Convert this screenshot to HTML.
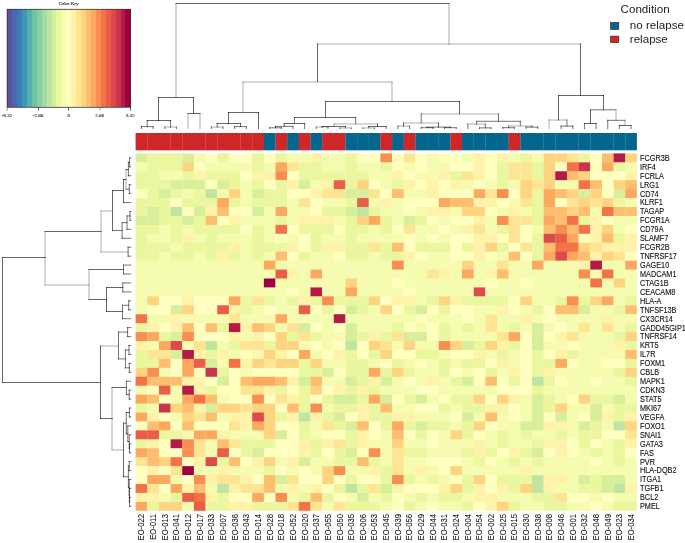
<!DOCTYPE html><html><head><meta charset="utf-8"><style>html,body{margin:0;padding:0;background:#fff;}svg{display:block;will-change:transform;}text{font-family:"Liberation Sans", sans-serif;}text.ser{font-family:"Liberation Serif",serif;}</style></head><body>
<svg width="685" height="543" viewBox="0 0 685 543">
<rect width="685" height="543" fill="#fff"/>
<g>
<rect x="135.6" y="153.4" width="11.81" height="9.38" fill="#d7ef9b"/>
<rect x="147.26" y="153.4" width="11.81" height="9.38" fill="#eaf79e"/>
<rect x="158.92" y="153.4" width="11.81" height="9.38" fill="#eaf79e"/>
<rect x="170.57" y="153.4" width="11.81" height="9.38" fill="#eaf79e"/>
<rect x="182.23" y="153.4" width="11.81" height="9.38" fill="#d7ef9b"/>
<rect x="193.89" y="153.4" width="11.81" height="9.38" fill="#f5fbaf"/>
<rect x="205.55" y="153.4" width="11.81" height="9.38" fill="#ffffbf"/>
<rect x="217.21" y="153.4" width="11.81" height="9.38" fill="#eaf79e"/>
<rect x="228.87" y="153.4" width="11.81" height="9.38" fill="#ffffbf"/>
<rect x="240.52" y="153.4" width="11.81" height="9.38" fill="#ffffbf"/>
<rect x="252.18" y="153.4" width="11.81" height="9.38" fill="#eaf79e"/>
<rect x="263.84" y="153.4" width="11.81" height="9.38" fill="#ffffbf"/>
<rect x="275.5" y="153.4" width="11.81" height="9.38" fill="#eaf79e"/>
<rect x="287.16" y="153.4" width="11.81" height="9.38" fill="#f5fbaf"/>
<rect x="298.81" y="153.4" width="11.81" height="9.38" fill="#f5fbaf"/>
<rect x="310.47" y="153.4" width="11.81" height="9.38" fill="#fff2a9"/>
<rect x="322.13" y="153.4" width="11.81" height="9.38" fill="#f5fbaf"/>
<rect x="333.79" y="153.4" width="11.81" height="9.38" fill="#f5fbaf"/>
<rect x="345.45" y="153.4" width="11.81" height="9.38" fill="#eaf79e"/>
<rect x="357.1" y="153.4" width="11.81" height="9.38" fill="#ffffbf"/>
<rect x="368.76" y="153.4" width="11.81" height="9.38" fill="#ffffbf"/>
<rect x="380.42" y="153.4" width="11.81" height="9.38" fill="#f88e52"/>
<rect x="392.08" y="153.4" width="11.81" height="9.38" fill="#ffffbf"/>
<rect x="403.74" y="153.4" width="11.81" height="9.38" fill="#fee594"/>
<rect x="415.4" y="153.4" width="11.81" height="9.38" fill="#ffffbf"/>
<rect x="427.05" y="153.4" width="11.81" height="9.38" fill="#f5fbaf"/>
<rect x="438.71" y="153.4" width="11.81" height="9.38" fill="#ffffbf"/>
<rect x="450.37" y="153.4" width="11.81" height="9.38" fill="#ffffbf"/>
<rect x="462.03" y="153.4" width="11.81" height="9.38" fill="#f5fbaf"/>
<rect x="473.69" y="153.4" width="11.81" height="9.38" fill="#fff2a9"/>
<rect x="485.34" y="153.4" width="11.81" height="9.38" fill="#ffffbf"/>
<rect x="497" y="153.4" width="11.81" height="9.38" fill="#fff2a9"/>
<rect x="508.66" y="153.4" width="11.81" height="9.38" fill="#f5fbaf"/>
<rect x="520.32" y="153.4" width="11.81" height="9.38" fill="#eaf79e"/>
<rect x="531.98" y="153.4" width="11.81" height="9.38" fill="#f5fbaf"/>
<rect x="543.63" y="153.4" width="11.81" height="9.38" fill="#fed480"/>
<rect x="555.29" y="153.4" width="11.81" height="9.38" fill="#fed480"/>
<rect x="566.95" y="153.4" width="11.81" height="9.38" fill="#fee594"/>
<rect x="578.61" y="153.4" width="11.81" height="9.38" fill="#eaf79e"/>
<rect x="590.27" y="153.4" width="11.81" height="9.38" fill="#ffffbf"/>
<rect x="601.93" y="153.4" width="11.81" height="9.38" fill="#fdbf6f"/>
<rect x="613.58" y="153.4" width="11.81" height="9.38" fill="#b51a47"/>
<rect x="625.24" y="153.4" width="11.66" height="9.38" fill="#fed480"/>
<rect x="135.6" y="162.34" width="11.81" height="9.38" fill="#f5fbaf"/>
<rect x="147.26" y="162.34" width="11.81" height="9.38" fill="#eaf79e"/>
<rect x="158.92" y="162.34" width="11.81" height="9.38" fill="#eaf79e"/>
<rect x="170.57" y="162.34" width="11.81" height="9.38" fill="#eaf79e"/>
<rect x="182.23" y="162.34" width="11.81" height="9.38" fill="#fed480"/>
<rect x="193.89" y="162.34" width="11.81" height="9.38" fill="#ffffbf"/>
<rect x="205.55" y="162.34" width="11.81" height="9.38" fill="#f5fbaf"/>
<rect x="217.21" y="162.34" width="11.81" height="9.38" fill="#f5fbaf"/>
<rect x="228.87" y="162.34" width="11.81" height="9.38" fill="#f5fbaf"/>
<rect x="240.52" y="162.34" width="11.81" height="9.38" fill="#f5fbaf"/>
<rect x="252.18" y="162.34" width="11.81" height="9.38" fill="#eaf79e"/>
<rect x="263.84" y="162.34" width="11.81" height="9.38" fill="#f5fbaf"/>
<rect x="275.5" y="162.34" width="11.81" height="9.38" fill="#fca95f"/>
<rect x="287.16" y="162.34" width="11.81" height="9.38" fill="#fee594"/>
<rect x="298.81" y="162.34" width="11.81" height="9.38" fill="#eaf79e"/>
<rect x="310.47" y="162.34" width="11.81" height="9.38" fill="#eaf79e"/>
<rect x="322.13" y="162.34" width="11.81" height="9.38" fill="#f5fbaf"/>
<rect x="333.79" y="162.34" width="11.81" height="9.38" fill="#f5fbaf"/>
<rect x="345.45" y="162.34" width="11.81" height="9.38" fill="#eaf79e"/>
<rect x="357.1" y="162.34" width="11.81" height="9.38" fill="#f5fbaf"/>
<rect x="368.76" y="162.34" width="11.81" height="9.38" fill="#f5fbaf"/>
<rect x="380.42" y="162.34" width="11.81" height="9.38" fill="#eaf79e"/>
<rect x="392.08" y="162.34" width="11.81" height="9.38" fill="#ffffbf"/>
<rect x="403.74" y="162.34" width="11.81" height="9.38" fill="#f5fbaf"/>
<rect x="415.4" y="162.34" width="11.81" height="9.38" fill="#ffffbf"/>
<rect x="427.05" y="162.34" width="11.81" height="9.38" fill="#f5fbaf"/>
<rect x="438.71" y="162.34" width="11.81" height="9.38" fill="#f5fbaf"/>
<rect x="450.37" y="162.34" width="11.81" height="9.38" fill="#ffffbf"/>
<rect x="462.03" y="162.34" width="11.81" height="9.38" fill="#ffffbf"/>
<rect x="473.69" y="162.34" width="11.81" height="9.38" fill="#fff2a9"/>
<rect x="485.34" y="162.34" width="11.81" height="9.38" fill="#ffffbf"/>
<rect x="497" y="162.34" width="11.81" height="9.38" fill="#eaf79e"/>
<rect x="508.66" y="162.34" width="11.81" height="9.38" fill="#fee594"/>
<rect x="520.32" y="162.34" width="11.81" height="9.38" fill="#fee594"/>
<rect x="531.98" y="162.34" width="11.81" height="9.38" fill="#eaf79e"/>
<rect x="543.63" y="162.34" width="11.81" height="9.38" fill="#fed480"/>
<rect x="555.29" y="162.34" width="11.81" height="9.38" fill="#ffffbf"/>
<rect x="566.95" y="162.34" width="11.81" height="9.38" fill="#f57246"/>
<rect x="578.61" y="162.34" width="11.81" height="9.38" fill="#cc344d"/>
<rect x="590.27" y="162.34" width="11.81" height="9.38" fill="#ffffbf"/>
<rect x="601.93" y="162.34" width="11.81" height="9.38" fill="#fca95f"/>
<rect x="613.58" y="162.34" width="11.81" height="9.38" fill="#eaf79e"/>
<rect x="625.24" y="162.34" width="11.66" height="9.38" fill="#f5fbaf"/>
<rect x="135.6" y="171.27" width="11.81" height="9.38" fill="#eaf79e"/>
<rect x="147.26" y="171.27" width="11.81" height="9.38" fill="#eaf79e"/>
<rect x="158.92" y="171.27" width="11.81" height="9.38" fill="#f5fbaf"/>
<rect x="170.57" y="171.27" width="11.81" height="9.38" fill="#f5fbaf"/>
<rect x="182.23" y="171.27" width="11.81" height="9.38" fill="#eaf79e"/>
<rect x="193.89" y="171.27" width="11.81" height="9.38" fill="#fff2a9"/>
<rect x="205.55" y="171.27" width="11.81" height="9.38" fill="#eaf79e"/>
<rect x="217.21" y="171.27" width="11.81" height="9.38" fill="#eaf79e"/>
<rect x="228.87" y="171.27" width="11.81" height="9.38" fill="#eaf79e"/>
<rect x="240.52" y="171.27" width="11.81" height="9.38" fill="#ffffbf"/>
<rect x="252.18" y="171.27" width="11.81" height="9.38" fill="#fff2a9"/>
<rect x="263.84" y="171.27" width="11.81" height="9.38" fill="#fff2a9"/>
<rect x="275.5" y="171.27" width="11.81" height="9.38" fill="#f88e52"/>
<rect x="287.16" y="171.27" width="11.81" height="9.38" fill="#ffffbf"/>
<rect x="298.81" y="171.27" width="11.81" height="9.38" fill="#eaf79e"/>
<rect x="310.47" y="171.27" width="11.81" height="9.38" fill="#eaf79e"/>
<rect x="322.13" y="171.27" width="11.81" height="9.38" fill="#eaf79e"/>
<rect x="333.79" y="171.27" width="11.81" height="9.38" fill="#eaf79e"/>
<rect x="345.45" y="171.27" width="11.81" height="9.38" fill="#eaf79e"/>
<rect x="357.1" y="171.27" width="11.81" height="9.38" fill="#eaf79e"/>
<rect x="368.76" y="171.27" width="11.81" height="9.38" fill="#f5fbaf"/>
<rect x="380.42" y="171.27" width="11.81" height="9.38" fill="#f5fbaf"/>
<rect x="392.08" y="171.27" width="11.81" height="9.38" fill="#fff2a9"/>
<rect x="403.74" y="171.27" width="11.81" height="9.38" fill="#ffffbf"/>
<rect x="415.4" y="171.27" width="11.81" height="9.38" fill="#f5fbaf"/>
<rect x="427.05" y="171.27" width="11.81" height="9.38" fill="#f5fbaf"/>
<rect x="438.71" y="171.27" width="11.81" height="9.38" fill="#fff2a9"/>
<rect x="450.37" y="171.27" width="11.81" height="9.38" fill="#eaf79e"/>
<rect x="462.03" y="171.27" width="11.81" height="9.38" fill="#fee594"/>
<rect x="473.69" y="171.27" width="11.81" height="9.38" fill="#fff2a9"/>
<rect x="485.34" y="171.27" width="11.81" height="9.38" fill="#ffffbf"/>
<rect x="497" y="171.27" width="11.81" height="9.38" fill="#eaf79e"/>
<rect x="508.66" y="171.27" width="11.81" height="9.38" fill="#fee594"/>
<rect x="520.32" y="171.27" width="11.81" height="9.38" fill="#fee594"/>
<rect x="531.98" y="171.27" width="11.81" height="9.38" fill="#eaf79e"/>
<rect x="543.63" y="171.27" width="11.81" height="9.38" fill="#fed480"/>
<rect x="555.29" y="171.27" width="11.81" height="9.38" fill="#b51a47"/>
<rect x="566.95" y="171.27" width="11.81" height="9.38" fill="#fdbf6f"/>
<rect x="578.61" y="171.27" width="11.81" height="9.38" fill="#fed480"/>
<rect x="590.27" y="171.27" width="11.81" height="9.38" fill="#ffffbf"/>
<rect x="601.93" y="171.27" width="11.81" height="9.38" fill="#ffffbf"/>
<rect x="613.58" y="171.27" width="11.81" height="9.38" fill="#ffffbf"/>
<rect x="625.24" y="171.27" width="11.66" height="9.38" fill="#fff2a9"/>
<rect x="135.6" y="180.21" width="11.81" height="9.38" fill="#eaf79e"/>
<rect x="147.26" y="180.21" width="11.81" height="9.38" fill="#eaf79e"/>
<rect x="158.92" y="180.21" width="11.81" height="9.38" fill="#eaf79e"/>
<rect x="170.57" y="180.21" width="11.81" height="9.38" fill="#d7ef9b"/>
<rect x="182.23" y="180.21" width="11.81" height="9.38" fill="#d7ef9b"/>
<rect x="193.89" y="180.21" width="11.81" height="9.38" fill="#d7ef9b"/>
<rect x="205.55" y="180.21" width="11.81" height="9.38" fill="#ffffbf"/>
<rect x="217.21" y="180.21" width="11.81" height="9.38" fill="#d7ef9b"/>
<rect x="228.87" y="180.21" width="11.81" height="9.38" fill="#eaf79e"/>
<rect x="240.52" y="180.21" width="11.81" height="9.38" fill="#f5fbaf"/>
<rect x="252.18" y="180.21" width="11.81" height="9.38" fill="#eaf79e"/>
<rect x="263.84" y="180.21" width="11.81" height="9.38" fill="#ffffbf"/>
<rect x="275.5" y="180.21" width="11.81" height="9.38" fill="#eaf79e"/>
<rect x="287.16" y="180.21" width="11.81" height="9.38" fill="#fff2a9"/>
<rect x="298.81" y="180.21" width="11.81" height="9.38" fill="#d7ef9b"/>
<rect x="310.47" y="180.21" width="11.81" height="9.38" fill="#f5fbaf"/>
<rect x="322.13" y="180.21" width="11.81" height="9.38" fill="#fff2a9"/>
<rect x="333.79" y="180.21" width="11.81" height="9.38" fill="#ea5d47"/>
<rect x="345.45" y="180.21" width="11.81" height="9.38" fill="#eaf79e"/>
<rect x="357.1" y="180.21" width="11.81" height="9.38" fill="#fed480"/>
<rect x="368.76" y="180.21" width="11.81" height="9.38" fill="#ffffbf"/>
<rect x="380.42" y="180.21" width="11.81" height="9.38" fill="#f5fbaf"/>
<rect x="392.08" y="180.21" width="11.81" height="9.38" fill="#eaf79e"/>
<rect x="403.74" y="180.21" width="11.81" height="9.38" fill="#fff2a9"/>
<rect x="415.4" y="180.21" width="11.81" height="9.38" fill="#ffffbf"/>
<rect x="427.05" y="180.21" width="11.81" height="9.38" fill="#fff2a9"/>
<rect x="438.71" y="180.21" width="11.81" height="9.38" fill="#ffffbf"/>
<rect x="450.37" y="180.21" width="11.81" height="9.38" fill="#fff2a9"/>
<rect x="462.03" y="180.21" width="11.81" height="9.38" fill="#f5fbaf"/>
<rect x="473.69" y="180.21" width="11.81" height="9.38" fill="#ffffbf"/>
<rect x="485.34" y="180.21" width="11.81" height="9.38" fill="#f5fbaf"/>
<rect x="497" y="180.21" width="11.81" height="9.38" fill="#eaf79e"/>
<rect x="508.66" y="180.21" width="11.81" height="9.38" fill="#f5fbaf"/>
<rect x="520.32" y="180.21" width="11.81" height="9.38" fill="#fed480"/>
<rect x="531.98" y="180.21" width="11.81" height="9.38" fill="#fee594"/>
<rect x="543.63" y="180.21" width="11.81" height="9.38" fill="#fed480"/>
<rect x="555.29" y="180.21" width="11.81" height="9.38" fill="#f5fbaf"/>
<rect x="566.95" y="180.21" width="11.81" height="9.38" fill="#f5fbaf"/>
<rect x="578.61" y="180.21" width="11.81" height="9.38" fill="#f57246"/>
<rect x="590.27" y="180.21" width="11.81" height="9.38" fill="#fdbf6f"/>
<rect x="601.93" y="180.21" width="11.81" height="9.38" fill="#ffffbf"/>
<rect x="613.58" y="180.21" width="11.81" height="9.38" fill="#fed480"/>
<rect x="625.24" y="180.21" width="11.66" height="9.38" fill="#fdbf6f"/>
<rect x="135.6" y="189.14" width="11.81" height="9.38" fill="#ffffbf"/>
<rect x="147.26" y="189.14" width="11.81" height="9.38" fill="#eaf79e"/>
<rect x="158.92" y="189.14" width="11.81" height="9.38" fill="#d7ef9b"/>
<rect x="170.57" y="189.14" width="11.81" height="9.38" fill="#eaf79e"/>
<rect x="182.23" y="189.14" width="11.81" height="9.38" fill="#f5fbaf"/>
<rect x="193.89" y="189.14" width="11.81" height="9.38" fill="#eaf79e"/>
<rect x="205.55" y="189.14" width="11.81" height="9.38" fill="#bfe5a0"/>
<rect x="217.21" y="189.14" width="11.81" height="9.38" fill="#f5fbaf"/>
<rect x="228.87" y="189.14" width="11.81" height="9.38" fill="#fed480"/>
<rect x="240.52" y="189.14" width="11.81" height="9.38" fill="#f5fbaf"/>
<rect x="252.18" y="189.14" width="11.81" height="9.38" fill="#d7ef9b"/>
<rect x="263.84" y="189.14" width="11.81" height="9.38" fill="#eaf79e"/>
<rect x="275.5" y="189.14" width="11.81" height="9.38" fill="#eaf79e"/>
<rect x="287.16" y="189.14" width="11.81" height="9.38" fill="#ffffbf"/>
<rect x="298.81" y="189.14" width="11.81" height="9.38" fill="#ffffbf"/>
<rect x="310.47" y="189.14" width="11.81" height="9.38" fill="#fff2a9"/>
<rect x="322.13" y="189.14" width="11.81" height="9.38" fill="#fee594"/>
<rect x="333.79" y="189.14" width="11.81" height="9.38" fill="#fee594"/>
<rect x="345.45" y="189.14" width="11.81" height="9.38" fill="#d7ef9b"/>
<rect x="357.1" y="189.14" width="11.81" height="9.38" fill="#d7ef9b"/>
<rect x="368.76" y="189.14" width="11.81" height="9.38" fill="#fee594"/>
<rect x="380.42" y="189.14" width="11.81" height="9.38" fill="#ffffbf"/>
<rect x="392.08" y="189.14" width="11.81" height="9.38" fill="#fdbf6f"/>
<rect x="403.74" y="189.14" width="11.81" height="9.38" fill="#f5fbaf"/>
<rect x="415.4" y="189.14" width="11.81" height="9.38" fill="#f5fbaf"/>
<rect x="427.05" y="189.14" width="11.81" height="9.38" fill="#fff2a9"/>
<rect x="438.71" y="189.14" width="11.81" height="9.38" fill="#ffffbf"/>
<rect x="450.37" y="189.14" width="11.81" height="9.38" fill="#ffffbf"/>
<rect x="462.03" y="189.14" width="11.81" height="9.38" fill="#ffffbf"/>
<rect x="473.69" y="189.14" width="11.81" height="9.38" fill="#fca95f"/>
<rect x="485.34" y="189.14" width="11.81" height="9.38" fill="#fee594"/>
<rect x="497" y="189.14" width="11.81" height="9.38" fill="#f88e52"/>
<rect x="508.66" y="189.14" width="11.81" height="9.38" fill="#ffffbf"/>
<rect x="520.32" y="189.14" width="11.81" height="9.38" fill="#fed480"/>
<rect x="531.98" y="189.14" width="11.81" height="9.38" fill="#eaf79e"/>
<rect x="543.63" y="189.14" width="11.81" height="9.38" fill="#fca95f"/>
<rect x="555.29" y="189.14" width="11.81" height="9.38" fill="#fdbf6f"/>
<rect x="566.95" y="189.14" width="11.81" height="9.38" fill="#fed480"/>
<rect x="578.61" y="189.14" width="11.81" height="9.38" fill="#d7ef9b"/>
<rect x="590.27" y="189.14" width="11.81" height="9.38" fill="#fed480"/>
<rect x="601.93" y="189.14" width="11.81" height="9.38" fill="#ffffbf"/>
<rect x="613.58" y="189.14" width="11.81" height="9.38" fill="#d7ef9b"/>
<rect x="625.24" y="189.14" width="11.66" height="9.38" fill="#fca95f"/>
<rect x="135.6" y="198.07" width="11.81" height="9.38" fill="#eaf79e"/>
<rect x="147.26" y="198.07" width="11.81" height="9.38" fill="#eaf79e"/>
<rect x="158.92" y="198.07" width="11.81" height="9.38" fill="#eaf79e"/>
<rect x="170.57" y="198.07" width="11.81" height="9.38" fill="#ffffbf"/>
<rect x="182.23" y="198.07" width="11.81" height="9.38" fill="#eaf79e"/>
<rect x="193.89" y="198.07" width="11.81" height="9.38" fill="#eaf79e"/>
<rect x="205.55" y="198.07" width="11.81" height="9.38" fill="#eaf79e"/>
<rect x="217.21" y="198.07" width="11.81" height="9.38" fill="#fca95f"/>
<rect x="228.87" y="198.07" width="11.81" height="9.38" fill="#eaf79e"/>
<rect x="240.52" y="198.07" width="11.81" height="9.38" fill="#f5fbaf"/>
<rect x="252.18" y="198.07" width="11.81" height="9.38" fill="#eaf79e"/>
<rect x="263.84" y="198.07" width="11.81" height="9.38" fill="#eaf79e"/>
<rect x="275.5" y="198.07" width="11.81" height="9.38" fill="#eaf79e"/>
<rect x="287.16" y="198.07" width="11.81" height="9.38" fill="#f5fbaf"/>
<rect x="298.81" y="198.07" width="11.81" height="9.38" fill="#fee594"/>
<rect x="310.47" y="198.07" width="11.81" height="9.38" fill="#ffffbf"/>
<rect x="322.13" y="198.07" width="11.81" height="9.38" fill="#f5fbaf"/>
<rect x="333.79" y="198.07" width="11.81" height="9.38" fill="#f5fbaf"/>
<rect x="345.45" y="198.07" width="11.81" height="9.38" fill="#eaf79e"/>
<rect x="357.1" y="198.07" width="11.81" height="9.38" fill="#ea5d47"/>
<rect x="368.76" y="198.07" width="11.81" height="9.38" fill="#f5fbaf"/>
<rect x="380.42" y="198.07" width="11.81" height="9.38" fill="#fff2a9"/>
<rect x="392.08" y="198.07" width="11.81" height="9.38" fill="#f5fbaf"/>
<rect x="403.74" y="198.07" width="11.81" height="9.38" fill="#ffffbf"/>
<rect x="415.4" y="198.07" width="11.81" height="9.38" fill="#ffffbf"/>
<rect x="427.05" y="198.07" width="11.81" height="9.38" fill="#ffffbf"/>
<rect x="438.71" y="198.07" width="11.81" height="9.38" fill="#fca95f"/>
<rect x="450.37" y="198.07" width="11.81" height="9.38" fill="#fdbf6f"/>
<rect x="462.03" y="198.07" width="11.81" height="9.38" fill="#fdbf6f"/>
<rect x="473.69" y="198.07" width="11.81" height="9.38" fill="#fff2a9"/>
<rect x="485.34" y="198.07" width="11.81" height="9.38" fill="#fff2a9"/>
<rect x="497" y="198.07" width="11.81" height="9.38" fill="#ffffbf"/>
<rect x="508.66" y="198.07" width="11.81" height="9.38" fill="#f5fbaf"/>
<rect x="520.32" y="198.07" width="11.81" height="9.38" fill="#fee594"/>
<rect x="531.98" y="198.07" width="11.81" height="9.38" fill="#eaf79e"/>
<rect x="543.63" y="198.07" width="11.81" height="9.38" fill="#fca95f"/>
<rect x="555.29" y="198.07" width="11.81" height="9.38" fill="#ffffbf"/>
<rect x="566.95" y="198.07" width="11.81" height="9.38" fill="#fee594"/>
<rect x="578.61" y="198.07" width="11.81" height="9.38" fill="#fed480"/>
<rect x="590.27" y="198.07" width="11.81" height="9.38" fill="#fee594"/>
<rect x="601.93" y="198.07" width="11.81" height="9.38" fill="#fed480"/>
<rect x="613.58" y="198.07" width="11.81" height="9.38" fill="#eaf79e"/>
<rect x="625.24" y="198.07" width="11.66" height="9.38" fill="#f5fbaf"/>
<rect x="135.6" y="207.01" width="11.81" height="9.38" fill="#eaf79e"/>
<rect x="147.26" y="207.01" width="11.81" height="9.38" fill="#d7ef9b"/>
<rect x="158.92" y="207.01" width="11.81" height="9.38" fill="#eaf79e"/>
<rect x="170.57" y="207.01" width="11.81" height="9.38" fill="#bfe5a0"/>
<rect x="182.23" y="207.01" width="11.81" height="9.38" fill="#ffffbf"/>
<rect x="193.89" y="207.01" width="11.81" height="9.38" fill="#d7ef9b"/>
<rect x="205.55" y="207.01" width="11.81" height="9.38" fill="#fff2a9"/>
<rect x="217.21" y="207.01" width="11.81" height="9.38" fill="#fdbf6f"/>
<rect x="228.87" y="207.01" width="11.81" height="9.38" fill="#ffffbf"/>
<rect x="240.52" y="207.01" width="11.81" height="9.38" fill="#ffffbf"/>
<rect x="252.18" y="207.01" width="11.81" height="9.38" fill="#d7ef9b"/>
<rect x="263.84" y="207.01" width="11.81" height="9.38" fill="#f5fbaf"/>
<rect x="275.5" y="207.01" width="11.81" height="9.38" fill="#fca95f"/>
<rect x="287.16" y="207.01" width="11.81" height="9.38" fill="#f5fbaf"/>
<rect x="298.81" y="207.01" width="11.81" height="9.38" fill="#f5fbaf"/>
<rect x="310.47" y="207.01" width="11.81" height="9.38" fill="#ffffbf"/>
<rect x="322.13" y="207.01" width="11.81" height="9.38" fill="#eaf79e"/>
<rect x="333.79" y="207.01" width="11.81" height="9.38" fill="#eaf79e"/>
<rect x="345.45" y="207.01" width="11.81" height="9.38" fill="#d7ef9b"/>
<rect x="357.1" y="207.01" width="11.81" height="9.38" fill="#bfe5a0"/>
<rect x="368.76" y="207.01" width="11.81" height="9.38" fill="#eaf79e"/>
<rect x="380.42" y="207.01" width="11.81" height="9.38" fill="#f5fbaf"/>
<rect x="392.08" y="207.01" width="11.81" height="9.38" fill="#f5fbaf"/>
<rect x="403.74" y="207.01" width="11.81" height="9.38" fill="#ffffbf"/>
<rect x="415.4" y="207.01" width="11.81" height="9.38" fill="#f5fbaf"/>
<rect x="427.05" y="207.01" width="11.81" height="9.38" fill="#fff2a9"/>
<rect x="438.71" y="207.01" width="11.81" height="9.38" fill="#fff2a9"/>
<rect x="450.37" y="207.01" width="11.81" height="9.38" fill="#f5fbaf"/>
<rect x="462.03" y="207.01" width="11.81" height="9.38" fill="#fed480"/>
<rect x="473.69" y="207.01" width="11.81" height="9.38" fill="#fed480"/>
<rect x="485.34" y="207.01" width="11.81" height="9.38" fill="#ffffbf"/>
<rect x="497" y="207.01" width="11.81" height="9.38" fill="#f5fbaf"/>
<rect x="508.66" y="207.01" width="11.81" height="9.38" fill="#fff2a9"/>
<rect x="520.32" y="207.01" width="11.81" height="9.38" fill="#f5fbaf"/>
<rect x="531.98" y="207.01" width="11.81" height="9.38" fill="#eaf79e"/>
<rect x="543.63" y="207.01" width="11.81" height="9.38" fill="#fdbf6f"/>
<rect x="555.29" y="207.01" width="11.81" height="9.38" fill="#fdbf6f"/>
<rect x="566.95" y="207.01" width="11.81" height="9.38" fill="#fed480"/>
<rect x="578.61" y="207.01" width="11.81" height="9.38" fill="#fdbf6f"/>
<rect x="590.27" y="207.01" width="11.81" height="9.38" fill="#f5fbaf"/>
<rect x="601.93" y="207.01" width="11.81" height="9.38" fill="#f57246"/>
<rect x="613.58" y="207.01" width="11.81" height="9.38" fill="#fdbf6f"/>
<rect x="625.24" y="207.01" width="11.66" height="9.38" fill="#fdbf6f"/>
<rect x="135.6" y="215.94" width="11.81" height="9.38" fill="#d7ef9b"/>
<rect x="147.26" y="215.94" width="11.81" height="9.38" fill="#d7ef9b"/>
<rect x="158.92" y="215.94" width="11.81" height="9.38" fill="#eaf79e"/>
<rect x="170.57" y="215.94" width="11.81" height="9.38" fill="#eaf79e"/>
<rect x="182.23" y="215.94" width="11.81" height="9.38" fill="#d7ef9b"/>
<rect x="193.89" y="215.94" width="11.81" height="9.38" fill="#eaf79e"/>
<rect x="205.55" y="215.94" width="11.81" height="9.38" fill="#fdbf6f"/>
<rect x="217.21" y="215.94" width="11.81" height="9.38" fill="#ffffbf"/>
<rect x="228.87" y="215.94" width="11.81" height="9.38" fill="#fff2a9"/>
<rect x="240.52" y="215.94" width="11.81" height="9.38" fill="#f5fbaf"/>
<rect x="252.18" y="215.94" width="11.81" height="9.38" fill="#f5fbaf"/>
<rect x="263.84" y="215.94" width="11.81" height="9.38" fill="#f5fbaf"/>
<rect x="275.5" y="215.94" width="11.81" height="9.38" fill="#eaf79e"/>
<rect x="287.16" y="215.94" width="11.81" height="9.38" fill="#f5fbaf"/>
<rect x="298.81" y="215.94" width="11.81" height="9.38" fill="#fff2a9"/>
<rect x="310.47" y="215.94" width="11.81" height="9.38" fill="#fff2a9"/>
<rect x="322.13" y="215.94" width="11.81" height="9.38" fill="#fff2a9"/>
<rect x="333.79" y="215.94" width="11.81" height="9.38" fill="#f5fbaf"/>
<rect x="345.45" y="215.94" width="11.81" height="9.38" fill="#eaf79e"/>
<rect x="357.1" y="215.94" width="11.81" height="9.38" fill="#fed480"/>
<rect x="368.76" y="215.94" width="11.81" height="9.38" fill="#fca95f"/>
<rect x="380.42" y="215.94" width="11.81" height="9.38" fill="#eaf79e"/>
<rect x="392.08" y="215.94" width="11.81" height="9.38" fill="#f5fbaf"/>
<rect x="403.74" y="215.94" width="11.81" height="9.38" fill="#d7ef9b"/>
<rect x="415.4" y="215.94" width="11.81" height="9.38" fill="#eaf79e"/>
<rect x="427.05" y="215.94" width="11.81" height="9.38" fill="#ffffbf"/>
<rect x="438.71" y="215.94" width="11.81" height="9.38" fill="#f5fbaf"/>
<rect x="450.37" y="215.94" width="11.81" height="9.38" fill="#ffffbf"/>
<rect x="462.03" y="215.94" width="11.81" height="9.38" fill="#ffffbf"/>
<rect x="473.69" y="215.94" width="11.81" height="9.38" fill="#fff2a9"/>
<rect x="485.34" y="215.94" width="11.81" height="9.38" fill="#f5fbaf"/>
<rect x="497" y="215.94" width="11.81" height="9.38" fill="#f88e52"/>
<rect x="508.66" y="215.94" width="11.81" height="9.38" fill="#fee594"/>
<rect x="520.32" y="215.94" width="11.81" height="9.38" fill="#fee594"/>
<rect x="531.98" y="215.94" width="11.81" height="9.38" fill="#eaf79e"/>
<rect x="543.63" y="215.94" width="11.81" height="9.38" fill="#fca95f"/>
<rect x="555.29" y="215.94" width="11.81" height="9.38" fill="#fdbf6f"/>
<rect x="566.95" y="215.94" width="11.81" height="9.38" fill="#f57246"/>
<rect x="578.61" y="215.94" width="11.81" height="9.38" fill="#eaf79e"/>
<rect x="590.27" y="215.94" width="11.81" height="9.38" fill="#fff2a9"/>
<rect x="601.93" y="215.94" width="11.81" height="9.38" fill="#ffffbf"/>
<rect x="613.58" y="215.94" width="11.81" height="9.38" fill="#f5fbaf"/>
<rect x="625.24" y="215.94" width="11.66" height="9.38" fill="#f5fbaf"/>
<rect x="135.6" y="224.88" width="11.81" height="9.38" fill="#eaf79e"/>
<rect x="147.26" y="224.88" width="11.81" height="9.38" fill="#eaf79e"/>
<rect x="158.92" y="224.88" width="11.81" height="9.38" fill="#f5fbaf"/>
<rect x="170.57" y="224.88" width="11.81" height="9.38" fill="#eaf79e"/>
<rect x="182.23" y="224.88" width="11.81" height="9.38" fill="#f5fbaf"/>
<rect x="193.89" y="224.88" width="11.81" height="9.38" fill="#eaf79e"/>
<rect x="205.55" y="224.88" width="11.81" height="9.38" fill="#eaf79e"/>
<rect x="217.21" y="224.88" width="11.81" height="9.38" fill="#eaf79e"/>
<rect x="228.87" y="224.88" width="11.81" height="9.38" fill="#eaf79e"/>
<rect x="240.52" y="224.88" width="11.81" height="9.38" fill="#ffffbf"/>
<rect x="252.18" y="224.88" width="11.81" height="9.38" fill="#eaf79e"/>
<rect x="263.84" y="224.88" width="11.81" height="9.38" fill="#f5fbaf"/>
<rect x="275.5" y="224.88" width="11.81" height="9.38" fill="#f57246"/>
<rect x="287.16" y="224.88" width="11.81" height="9.38" fill="#ffffbf"/>
<rect x="298.81" y="224.88" width="11.81" height="9.38" fill="#eaf79e"/>
<rect x="310.47" y="224.88" width="11.81" height="9.38" fill="#eaf79e"/>
<rect x="322.13" y="224.88" width="11.81" height="9.38" fill="#eaf79e"/>
<rect x="333.79" y="224.88" width="11.81" height="9.38" fill="#ffffbf"/>
<rect x="345.45" y="224.88" width="11.81" height="9.38" fill="#eaf79e"/>
<rect x="357.1" y="224.88" width="11.81" height="9.38" fill="#eaf79e"/>
<rect x="368.76" y="224.88" width="11.81" height="9.38" fill="#f5fbaf"/>
<rect x="380.42" y="224.88" width="11.81" height="9.38" fill="#eaf79e"/>
<rect x="392.08" y="224.88" width="11.81" height="9.38" fill="#ffffbf"/>
<rect x="403.74" y="224.88" width="11.81" height="9.38" fill="#fee594"/>
<rect x="415.4" y="224.88" width="11.81" height="9.38" fill="#f5fbaf"/>
<rect x="427.05" y="224.88" width="11.81" height="9.38" fill="#f5fbaf"/>
<rect x="438.71" y="224.88" width="11.81" height="9.38" fill="#ffffbf"/>
<rect x="450.37" y="224.88" width="11.81" height="9.38" fill="#f5fbaf"/>
<rect x="462.03" y="224.88" width="11.81" height="9.38" fill="#fff2a9"/>
<rect x="473.69" y="224.88" width="11.81" height="9.38" fill="#fee594"/>
<rect x="485.34" y="224.88" width="11.81" height="9.38" fill="#f5fbaf"/>
<rect x="497" y="224.88" width="11.81" height="9.38" fill="#eaf79e"/>
<rect x="508.66" y="224.88" width="11.81" height="9.38" fill="#fee594"/>
<rect x="520.32" y="224.88" width="11.81" height="9.38" fill="#ffffbf"/>
<rect x="531.98" y="224.88" width="11.81" height="9.38" fill="#f5fbaf"/>
<rect x="543.63" y="224.88" width="11.81" height="9.38" fill="#fdbf6f"/>
<rect x="555.29" y="224.88" width="11.81" height="9.38" fill="#f88e52"/>
<rect x="566.95" y="224.88" width="11.81" height="9.38" fill="#fdbf6f"/>
<rect x="578.61" y="224.88" width="11.81" height="9.38" fill="#f57246"/>
<rect x="590.27" y="224.88" width="11.81" height="9.38" fill="#fff2a9"/>
<rect x="601.93" y="224.88" width="11.81" height="9.38" fill="#fed480"/>
<rect x="613.58" y="224.88" width="11.81" height="9.38" fill="#f5fbaf"/>
<rect x="625.24" y="224.88" width="11.66" height="9.38" fill="#ffffbf"/>
<rect x="135.6" y="233.81" width="11.81" height="9.38" fill="#eaf79e"/>
<rect x="147.26" y="233.81" width="11.81" height="9.38" fill="#f5fbaf"/>
<rect x="158.92" y="233.81" width="11.81" height="9.38" fill="#f5fbaf"/>
<rect x="170.57" y="233.81" width="11.81" height="9.38" fill="#eaf79e"/>
<rect x="182.23" y="233.81" width="11.81" height="9.38" fill="#fff2a9"/>
<rect x="193.89" y="233.81" width="11.81" height="9.38" fill="#f5fbaf"/>
<rect x="205.55" y="233.81" width="11.81" height="9.38" fill="#eaf79e"/>
<rect x="217.21" y="233.81" width="11.81" height="9.38" fill="#f5fbaf"/>
<rect x="228.87" y="233.81" width="11.81" height="9.38" fill="#f5fbaf"/>
<rect x="240.52" y="233.81" width="11.81" height="9.38" fill="#f5fbaf"/>
<rect x="252.18" y="233.81" width="11.81" height="9.38" fill="#eaf79e"/>
<rect x="263.84" y="233.81" width="11.81" height="9.38" fill="#f5fbaf"/>
<rect x="275.5" y="233.81" width="11.81" height="9.38" fill="#ffffbf"/>
<rect x="287.16" y="233.81" width="11.81" height="9.38" fill="#f5fbaf"/>
<rect x="298.81" y="233.81" width="11.81" height="9.38" fill="#ffffbf"/>
<rect x="310.47" y="233.81" width="11.81" height="9.38" fill="#eaf79e"/>
<rect x="322.13" y="233.81" width="11.81" height="9.38" fill="#f5fbaf"/>
<rect x="333.79" y="233.81" width="11.81" height="9.38" fill="#f5fbaf"/>
<rect x="345.45" y="233.81" width="11.81" height="9.38" fill="#eaf79e"/>
<rect x="357.1" y="233.81" width="11.81" height="9.38" fill="#f5fbaf"/>
<rect x="368.76" y="233.81" width="11.81" height="9.38" fill="#f5fbaf"/>
<rect x="380.42" y="233.81" width="11.81" height="9.38" fill="#f5fbaf"/>
<rect x="392.08" y="233.81" width="11.81" height="9.38" fill="#f5fbaf"/>
<rect x="403.74" y="233.81" width="11.81" height="9.38" fill="#ffffbf"/>
<rect x="415.4" y="233.81" width="11.81" height="9.38" fill="#f5fbaf"/>
<rect x="427.05" y="233.81" width="11.81" height="9.38" fill="#ffffbf"/>
<rect x="438.71" y="233.81" width="11.81" height="9.38" fill="#f5fbaf"/>
<rect x="450.37" y="233.81" width="11.81" height="9.38" fill="#ffffbf"/>
<rect x="462.03" y="233.81" width="11.81" height="9.38" fill="#ffffbf"/>
<rect x="473.69" y="233.81" width="11.81" height="9.38" fill="#fff2a9"/>
<rect x="485.34" y="233.81" width="11.81" height="9.38" fill="#fff2a9"/>
<rect x="497" y="233.81" width="11.81" height="9.38" fill="#ffffbf"/>
<rect x="508.66" y="233.81" width="11.81" height="9.38" fill="#fee594"/>
<rect x="520.32" y="233.81" width="11.81" height="9.38" fill="#ffffbf"/>
<rect x="531.98" y="233.81" width="11.81" height="9.38" fill="#eaf79e"/>
<rect x="543.63" y="233.81" width="11.81" height="9.38" fill="#dd4a4c"/>
<rect x="555.29" y="233.81" width="11.81" height="9.38" fill="#ea5d47"/>
<rect x="566.95" y="233.81" width="11.81" height="9.38" fill="#fca95f"/>
<rect x="578.61" y="233.81" width="11.81" height="9.38" fill="#ffffbf"/>
<rect x="590.27" y="233.81" width="11.81" height="9.38" fill="#fff2a9"/>
<rect x="601.93" y="233.81" width="11.81" height="9.38" fill="#fdbf6f"/>
<rect x="613.58" y="233.81" width="11.81" height="9.38" fill="#eaf79e"/>
<rect x="625.24" y="233.81" width="11.66" height="9.38" fill="#fff2a9"/>
<rect x="135.6" y="242.75" width="11.81" height="9.38" fill="#eaf79e"/>
<rect x="147.26" y="242.75" width="11.81" height="9.38" fill="#eaf79e"/>
<rect x="158.92" y="242.75" width="11.81" height="9.38" fill="#eaf79e"/>
<rect x="170.57" y="242.75" width="11.81" height="9.38" fill="#f5fbaf"/>
<rect x="182.23" y="242.75" width="11.81" height="9.38" fill="#eaf79e"/>
<rect x="193.89" y="242.75" width="11.81" height="9.38" fill="#eaf79e"/>
<rect x="205.55" y="242.75" width="11.81" height="9.38" fill="#eaf79e"/>
<rect x="217.21" y="242.75" width="11.81" height="9.38" fill="#eaf79e"/>
<rect x="228.87" y="242.75" width="11.81" height="9.38" fill="#fff2a9"/>
<rect x="240.52" y="242.75" width="11.81" height="9.38" fill="#f5fbaf"/>
<rect x="252.18" y="242.75" width="11.81" height="9.38" fill="#eaf79e"/>
<rect x="263.84" y="242.75" width="11.81" height="9.38" fill="#eaf79e"/>
<rect x="275.5" y="242.75" width="11.81" height="9.38" fill="#eaf79e"/>
<rect x="287.16" y="242.75" width="11.81" height="9.38" fill="#fff2a9"/>
<rect x="298.81" y="242.75" width="11.81" height="9.38" fill="#ffffbf"/>
<rect x="310.47" y="242.75" width="11.81" height="9.38" fill="#eaf79e"/>
<rect x="322.13" y="242.75" width="11.81" height="9.38" fill="#fff2a9"/>
<rect x="333.79" y="242.75" width="11.81" height="9.38" fill="#fff2a9"/>
<rect x="345.45" y="242.75" width="11.81" height="9.38" fill="#eaf79e"/>
<rect x="357.1" y="242.75" width="11.81" height="9.38" fill="#eaf79e"/>
<rect x="368.76" y="242.75" width="11.81" height="9.38" fill="#fee594"/>
<rect x="380.42" y="242.75" width="11.81" height="9.38" fill="#eaf79e"/>
<rect x="392.08" y="242.75" width="11.81" height="9.38" fill="#fdbf6f"/>
<rect x="403.74" y="242.75" width="11.81" height="9.38" fill="#ffffbf"/>
<rect x="415.4" y="242.75" width="11.81" height="9.38" fill="#eaf79e"/>
<rect x="427.05" y="242.75" width="11.81" height="9.38" fill="#eaf79e"/>
<rect x="438.71" y="242.75" width="11.81" height="9.38" fill="#eaf79e"/>
<rect x="450.37" y="242.75" width="11.81" height="9.38" fill="#ffffbf"/>
<rect x="462.03" y="242.75" width="11.81" height="9.38" fill="#eaf79e"/>
<rect x="473.69" y="242.75" width="11.81" height="9.38" fill="#fff2a9"/>
<rect x="485.34" y="242.75" width="11.81" height="9.38" fill="#fed480"/>
<rect x="497" y="242.75" width="11.81" height="9.38" fill="#eaf79e"/>
<rect x="508.66" y="242.75" width="11.81" height="9.38" fill="#ffffbf"/>
<rect x="520.32" y="242.75" width="11.81" height="9.38" fill="#fee594"/>
<rect x="531.98" y="242.75" width="11.81" height="9.38" fill="#eaf79e"/>
<rect x="543.63" y="242.75" width="11.81" height="9.38" fill="#fdbf6f"/>
<rect x="555.29" y="242.75" width="11.81" height="9.38" fill="#f57246"/>
<rect x="566.95" y="242.75" width="11.81" height="9.38" fill="#f57246"/>
<rect x="578.61" y="242.75" width="11.81" height="9.38" fill="#fed480"/>
<rect x="590.27" y="242.75" width="11.81" height="9.38" fill="#fee594"/>
<rect x="601.93" y="242.75" width="11.81" height="9.38" fill="#fff2a9"/>
<rect x="613.58" y="242.75" width="11.81" height="9.38" fill="#fff2a9"/>
<rect x="625.24" y="242.75" width="11.66" height="9.38" fill="#fff2a9"/>
<rect x="135.6" y="251.69" width="11.81" height="9.38" fill="#eaf79e"/>
<rect x="147.26" y="251.69" width="11.81" height="9.38" fill="#eaf79e"/>
<rect x="158.92" y="251.69" width="11.81" height="9.38" fill="#f5fbaf"/>
<rect x="170.57" y="251.69" width="11.81" height="9.38" fill="#eaf79e"/>
<rect x="182.23" y="251.69" width="11.81" height="9.38" fill="#eaf79e"/>
<rect x="193.89" y="251.69" width="11.81" height="9.38" fill="#f5fbaf"/>
<rect x="205.55" y="251.69" width="11.81" height="9.38" fill="#eaf79e"/>
<rect x="217.21" y="251.69" width="11.81" height="9.38" fill="#fff2a9"/>
<rect x="228.87" y="251.69" width="11.81" height="9.38" fill="#eaf79e"/>
<rect x="240.52" y="251.69" width="11.81" height="9.38" fill="#f5fbaf"/>
<rect x="252.18" y="251.69" width="11.81" height="9.38" fill="#eaf79e"/>
<rect x="263.84" y="251.69" width="11.81" height="9.38" fill="#f5fbaf"/>
<rect x="275.5" y="251.69" width="11.81" height="9.38" fill="#fdbf6f"/>
<rect x="287.16" y="251.69" width="11.81" height="9.38" fill="#ffffbf"/>
<rect x="298.81" y="251.69" width="11.81" height="9.38" fill="#eaf79e"/>
<rect x="310.47" y="251.69" width="11.81" height="9.38" fill="#f5fbaf"/>
<rect x="322.13" y="251.69" width="11.81" height="9.38" fill="#f5fbaf"/>
<rect x="333.79" y="251.69" width="11.81" height="9.38" fill="#ffffbf"/>
<rect x="345.45" y="251.69" width="11.81" height="9.38" fill="#eaf79e"/>
<rect x="357.1" y="251.69" width="11.81" height="9.38" fill="#eaf79e"/>
<rect x="368.76" y="251.69" width="11.81" height="9.38" fill="#f5fbaf"/>
<rect x="380.42" y="251.69" width="11.81" height="9.38" fill="#eaf79e"/>
<rect x="392.08" y="251.69" width="11.81" height="9.38" fill="#eaf79e"/>
<rect x="403.74" y="251.69" width="11.81" height="9.38" fill="#fff2a9"/>
<rect x="415.4" y="251.69" width="11.81" height="9.38" fill="#ffffbf"/>
<rect x="427.05" y="251.69" width="11.81" height="9.38" fill="#f5fbaf"/>
<rect x="438.71" y="251.69" width="11.81" height="9.38" fill="#f5fbaf"/>
<rect x="450.37" y="251.69" width="11.81" height="9.38" fill="#ffffbf"/>
<rect x="462.03" y="251.69" width="11.81" height="9.38" fill="#ffffbf"/>
<rect x="473.69" y="251.69" width="11.81" height="9.38" fill="#fff2a9"/>
<rect x="485.34" y="251.69" width="11.81" height="9.38" fill="#ffffbf"/>
<rect x="497" y="251.69" width="11.81" height="9.38" fill="#f5fbaf"/>
<rect x="508.66" y="251.69" width="11.81" height="9.38" fill="#fdbf6f"/>
<rect x="520.32" y="251.69" width="11.81" height="9.38" fill="#ffffbf"/>
<rect x="531.98" y="251.69" width="11.81" height="9.38" fill="#eaf79e"/>
<rect x="543.63" y="251.69" width="11.81" height="9.38" fill="#fca95f"/>
<rect x="555.29" y="251.69" width="11.81" height="9.38" fill="#dd4a4c"/>
<rect x="566.95" y="251.69" width="11.81" height="9.38" fill="#fca95f"/>
<rect x="578.61" y="251.69" width="11.81" height="9.38" fill="#fdbf6f"/>
<rect x="590.27" y="251.69" width="11.81" height="9.38" fill="#fff2a9"/>
<rect x="601.93" y="251.69" width="11.81" height="9.38" fill="#fed480"/>
<rect x="613.58" y="251.69" width="11.81" height="9.38" fill="#fee594"/>
<rect x="625.24" y="251.69" width="11.66" height="9.38" fill="#ffffbf"/>
<rect x="135.6" y="260.62" width="11.81" height="9.38" fill="#f5fbaf"/>
<rect x="147.26" y="260.62" width="11.81" height="9.38" fill="#f5fbaf"/>
<rect x="158.92" y="260.62" width="11.81" height="9.38" fill="#f5fbaf"/>
<rect x="170.57" y="260.62" width="11.81" height="9.38" fill="#f5fbaf"/>
<rect x="182.23" y="260.62" width="11.81" height="9.38" fill="#f5fbaf"/>
<rect x="193.89" y="260.62" width="11.81" height="9.38" fill="#f5fbaf"/>
<rect x="205.55" y="260.62" width="11.81" height="9.38" fill="#f5fbaf"/>
<rect x="217.21" y="260.62" width="11.81" height="9.38" fill="#f5fbaf"/>
<rect x="228.87" y="260.62" width="11.81" height="9.38" fill="#f5fbaf"/>
<rect x="240.52" y="260.62" width="11.81" height="9.38" fill="#f5fbaf"/>
<rect x="252.18" y="260.62" width="11.81" height="9.38" fill="#f5fbaf"/>
<rect x="263.84" y="260.62" width="11.81" height="9.38" fill="#fca95f"/>
<rect x="275.5" y="260.62" width="11.81" height="9.38" fill="#f5fbaf"/>
<rect x="287.16" y="260.62" width="11.81" height="9.38" fill="#f5fbaf"/>
<rect x="298.81" y="260.62" width="11.81" height="9.38" fill="#f5fbaf"/>
<rect x="310.47" y="260.62" width="11.81" height="9.38" fill="#f5fbaf"/>
<rect x="322.13" y="260.62" width="11.81" height="9.38" fill="#f5fbaf"/>
<rect x="333.79" y="260.62" width="11.81" height="9.38" fill="#f5fbaf"/>
<rect x="345.45" y="260.62" width="11.81" height="9.38" fill="#f5fbaf"/>
<rect x="357.1" y="260.62" width="11.81" height="9.38" fill="#f5fbaf"/>
<rect x="368.76" y="260.62" width="11.81" height="9.38" fill="#f5fbaf"/>
<rect x="380.42" y="260.62" width="11.81" height="9.38" fill="#f5fbaf"/>
<rect x="392.08" y="260.62" width="11.81" height="9.38" fill="#f88e52"/>
<rect x="403.74" y="260.62" width="11.81" height="9.38" fill="#f5fbaf"/>
<rect x="415.4" y="260.62" width="11.81" height="9.38" fill="#f5fbaf"/>
<rect x="427.05" y="260.62" width="11.81" height="9.38" fill="#f5fbaf"/>
<rect x="438.71" y="260.62" width="11.81" height="9.38" fill="#f5fbaf"/>
<rect x="450.37" y="260.62" width="11.81" height="9.38" fill="#f5fbaf"/>
<rect x="462.03" y="260.62" width="11.81" height="9.38" fill="#fed480"/>
<rect x="473.69" y="260.62" width="11.81" height="9.38" fill="#f5fbaf"/>
<rect x="485.34" y="260.62" width="11.81" height="9.38" fill="#f5fbaf"/>
<rect x="497" y="260.62" width="11.81" height="9.38" fill="#fee594"/>
<rect x="508.66" y="260.62" width="11.81" height="9.38" fill="#f5fbaf"/>
<rect x="520.32" y="260.62" width="11.81" height="9.38" fill="#f5fbaf"/>
<rect x="531.98" y="260.62" width="11.81" height="9.38" fill="#fca95f"/>
<rect x="543.63" y="260.62" width="11.81" height="9.38" fill="#f5fbaf"/>
<rect x="555.29" y="260.62" width="11.81" height="9.38" fill="#f5fbaf"/>
<rect x="566.95" y="260.62" width="11.81" height="9.38" fill="#f5fbaf"/>
<rect x="578.61" y="260.62" width="11.81" height="9.38" fill="#fff2a9"/>
<rect x="590.27" y="260.62" width="11.81" height="9.38" fill="#b51a47"/>
<rect x="601.93" y="260.62" width="11.81" height="9.38" fill="#f5fbaf"/>
<rect x="613.58" y="260.62" width="11.81" height="9.38" fill="#f5fbaf"/>
<rect x="625.24" y="260.62" width="11.66" height="9.38" fill="#fca95f"/>
<rect x="135.6" y="269.56" width="11.81" height="9.38" fill="#f5fbaf"/>
<rect x="147.26" y="269.56" width="11.81" height="9.38" fill="#f5fbaf"/>
<rect x="158.92" y="269.56" width="11.81" height="9.38" fill="#f5fbaf"/>
<rect x="170.57" y="269.56" width="11.81" height="9.38" fill="#f5fbaf"/>
<rect x="182.23" y="269.56" width="11.81" height="9.38" fill="#f5fbaf"/>
<rect x="193.89" y="269.56" width="11.81" height="9.38" fill="#f5fbaf"/>
<rect x="205.55" y="269.56" width="11.81" height="9.38" fill="#f5fbaf"/>
<rect x="217.21" y="269.56" width="11.81" height="9.38" fill="#f5fbaf"/>
<rect x="228.87" y="269.56" width="11.81" height="9.38" fill="#f5fbaf"/>
<rect x="240.52" y="269.56" width="11.81" height="9.38" fill="#f5fbaf"/>
<rect x="252.18" y="269.56" width="11.81" height="9.38" fill="#f5fbaf"/>
<rect x="263.84" y="269.56" width="11.81" height="9.38" fill="#f5fbaf"/>
<rect x="275.5" y="269.56" width="11.81" height="9.38" fill="#ea5d47"/>
<rect x="287.16" y="269.56" width="11.81" height="9.38" fill="#fff2a9"/>
<rect x="298.81" y="269.56" width="11.81" height="9.38" fill="#f5fbaf"/>
<rect x="310.47" y="269.56" width="11.81" height="9.38" fill="#fca95f"/>
<rect x="322.13" y="269.56" width="11.81" height="9.38" fill="#f5fbaf"/>
<rect x="333.79" y="269.56" width="11.81" height="9.38" fill="#f5fbaf"/>
<rect x="345.45" y="269.56" width="11.81" height="9.38" fill="#f5fbaf"/>
<rect x="357.1" y="269.56" width="11.81" height="9.38" fill="#f5fbaf"/>
<rect x="368.76" y="269.56" width="11.81" height="9.38" fill="#f5fbaf"/>
<rect x="380.42" y="269.56" width="11.81" height="9.38" fill="#f5fbaf"/>
<rect x="392.08" y="269.56" width="11.81" height="9.38" fill="#f5fbaf"/>
<rect x="403.74" y="269.56" width="11.81" height="9.38" fill="#f5fbaf"/>
<rect x="415.4" y="269.56" width="11.81" height="9.38" fill="#f5fbaf"/>
<rect x="427.05" y="269.56" width="11.81" height="9.38" fill="#fee594"/>
<rect x="438.71" y="269.56" width="11.81" height="9.38" fill="#fff2a9"/>
<rect x="450.37" y="269.56" width="11.81" height="9.38" fill="#f5fbaf"/>
<rect x="462.03" y="269.56" width="11.81" height="9.38" fill="#fca95f"/>
<rect x="473.69" y="269.56" width="11.81" height="9.38" fill="#f5fbaf"/>
<rect x="485.34" y="269.56" width="11.81" height="9.38" fill="#fff2a9"/>
<rect x="497" y="269.56" width="11.81" height="9.38" fill="#fdbf6f"/>
<rect x="508.66" y="269.56" width="11.81" height="9.38" fill="#f5fbaf"/>
<rect x="520.32" y="269.56" width="11.81" height="9.38" fill="#f5fbaf"/>
<rect x="531.98" y="269.56" width="11.81" height="9.38" fill="#f5fbaf"/>
<rect x="543.63" y="269.56" width="11.81" height="9.38" fill="#f5fbaf"/>
<rect x="555.29" y="269.56" width="11.81" height="9.38" fill="#f5fbaf"/>
<rect x="566.95" y="269.56" width="11.81" height="9.38" fill="#f5fbaf"/>
<rect x="578.61" y="269.56" width="11.81" height="9.38" fill="#f88e52"/>
<rect x="590.27" y="269.56" width="11.81" height="9.38" fill="#f5fbaf"/>
<rect x="601.93" y="269.56" width="11.81" height="9.38" fill="#f57246"/>
<rect x="613.58" y="269.56" width="11.81" height="9.38" fill="#f5fbaf"/>
<rect x="625.24" y="269.56" width="11.66" height="9.38" fill="#f5fbaf"/>
<rect x="135.6" y="278.49" width="11.81" height="9.38" fill="#f5fbaf"/>
<rect x="147.26" y="278.49" width="11.81" height="9.38" fill="#f5fbaf"/>
<rect x="158.92" y="278.49" width="11.81" height="9.38" fill="#f5fbaf"/>
<rect x="170.57" y="278.49" width="11.81" height="9.38" fill="#f5fbaf"/>
<rect x="182.23" y="278.49" width="11.81" height="9.38" fill="#f5fbaf"/>
<rect x="193.89" y="278.49" width="11.81" height="9.38" fill="#f5fbaf"/>
<rect x="205.55" y="278.49" width="11.81" height="9.38" fill="#f5fbaf"/>
<rect x="217.21" y="278.49" width="11.81" height="9.38" fill="#f5fbaf"/>
<rect x="228.87" y="278.49" width="11.81" height="9.38" fill="#f5fbaf"/>
<rect x="240.52" y="278.49" width="11.81" height="9.38" fill="#f5fbaf"/>
<rect x="252.18" y="278.49" width="11.81" height="9.38" fill="#f5fbaf"/>
<rect x="263.84" y="278.49" width="11.81" height="9.38" fill="#9e0142"/>
<rect x="275.5" y="278.49" width="11.81" height="9.38" fill="#f5fbaf"/>
<rect x="287.16" y="278.49" width="11.81" height="9.38" fill="#f5fbaf"/>
<rect x="298.81" y="278.49" width="11.81" height="9.38" fill="#f5fbaf"/>
<rect x="310.47" y="278.49" width="11.81" height="9.38" fill="#f5fbaf"/>
<rect x="322.13" y="278.49" width="11.81" height="9.38" fill="#f5fbaf"/>
<rect x="333.79" y="278.49" width="11.81" height="9.38" fill="#f5fbaf"/>
<rect x="345.45" y="278.49" width="11.81" height="9.38" fill="#fed480"/>
<rect x="357.1" y="278.49" width="11.81" height="9.38" fill="#f5fbaf"/>
<rect x="368.76" y="278.49" width="11.81" height="9.38" fill="#f5fbaf"/>
<rect x="380.42" y="278.49" width="11.81" height="9.38" fill="#f5fbaf"/>
<rect x="392.08" y="278.49" width="11.81" height="9.38" fill="#ffffbf"/>
<rect x="403.74" y="278.49" width="11.81" height="9.38" fill="#f5fbaf"/>
<rect x="415.4" y="278.49" width="11.81" height="9.38" fill="#f5fbaf"/>
<rect x="427.05" y="278.49" width="11.81" height="9.38" fill="#f5fbaf"/>
<rect x="438.71" y="278.49" width="11.81" height="9.38" fill="#f5fbaf"/>
<rect x="450.37" y="278.49" width="11.81" height="9.38" fill="#f5fbaf"/>
<rect x="462.03" y="278.49" width="11.81" height="9.38" fill="#f5fbaf"/>
<rect x="473.69" y="278.49" width="11.81" height="9.38" fill="#f5fbaf"/>
<rect x="485.34" y="278.49" width="11.81" height="9.38" fill="#ffffbf"/>
<rect x="497" y="278.49" width="11.81" height="9.38" fill="#f5fbaf"/>
<rect x="508.66" y="278.49" width="11.81" height="9.38" fill="#f5fbaf"/>
<rect x="520.32" y="278.49" width="11.81" height="9.38" fill="#ffffbf"/>
<rect x="531.98" y="278.49" width="11.81" height="9.38" fill="#f5fbaf"/>
<rect x="543.63" y="278.49" width="11.81" height="9.38" fill="#f5fbaf"/>
<rect x="555.29" y="278.49" width="11.81" height="9.38" fill="#f5fbaf"/>
<rect x="566.95" y="278.49" width="11.81" height="9.38" fill="#f5fbaf"/>
<rect x="578.61" y="278.49" width="11.81" height="9.38" fill="#f5fbaf"/>
<rect x="590.27" y="278.49" width="11.81" height="9.38" fill="#f57246"/>
<rect x="601.93" y="278.49" width="11.81" height="9.38" fill="#f5fbaf"/>
<rect x="613.58" y="278.49" width="11.81" height="9.38" fill="#fed480"/>
<rect x="625.24" y="278.49" width="11.66" height="9.38" fill="#f5fbaf"/>
<rect x="135.6" y="287.42" width="11.81" height="9.38" fill="#f5fbaf"/>
<rect x="147.26" y="287.42" width="11.81" height="9.38" fill="#f5fbaf"/>
<rect x="158.92" y="287.42" width="11.81" height="9.38" fill="#f5fbaf"/>
<rect x="170.57" y="287.42" width="11.81" height="9.38" fill="#f5fbaf"/>
<rect x="182.23" y="287.42" width="11.81" height="9.38" fill="#f5fbaf"/>
<rect x="193.89" y="287.42" width="11.81" height="9.38" fill="#f5fbaf"/>
<rect x="205.55" y="287.42" width="11.81" height="9.38" fill="#f5fbaf"/>
<rect x="217.21" y="287.42" width="11.81" height="9.38" fill="#f5fbaf"/>
<rect x="228.87" y="287.42" width="11.81" height="9.38" fill="#f5fbaf"/>
<rect x="240.52" y="287.42" width="11.81" height="9.38" fill="#f5fbaf"/>
<rect x="252.18" y="287.42" width="11.81" height="9.38" fill="#f5fbaf"/>
<rect x="263.84" y="287.42" width="11.81" height="9.38" fill="#f5fbaf"/>
<rect x="275.5" y="287.42" width="11.81" height="9.38" fill="#f5fbaf"/>
<rect x="287.16" y="287.42" width="11.81" height="9.38" fill="#ffffbf"/>
<rect x="298.81" y="287.42" width="11.81" height="9.38" fill="#f5fbaf"/>
<rect x="310.47" y="287.42" width="11.81" height="9.38" fill="#b51a47"/>
<rect x="322.13" y="287.42" width="11.81" height="9.38" fill="#f5fbaf"/>
<rect x="333.79" y="287.42" width="11.81" height="9.38" fill="#f5fbaf"/>
<rect x="345.45" y="287.42" width="11.81" height="9.38" fill="#fca95f"/>
<rect x="357.1" y="287.42" width="11.81" height="9.38" fill="#f5fbaf"/>
<rect x="368.76" y="287.42" width="11.81" height="9.38" fill="#f5fbaf"/>
<rect x="380.42" y="287.42" width="11.81" height="9.38" fill="#f5fbaf"/>
<rect x="392.08" y="287.42" width="11.81" height="9.38" fill="#f5fbaf"/>
<rect x="403.74" y="287.42" width="11.81" height="9.38" fill="#ffffbf"/>
<rect x="415.4" y="287.42" width="11.81" height="9.38" fill="#f5fbaf"/>
<rect x="427.05" y="287.42" width="11.81" height="9.38" fill="#f5fbaf"/>
<rect x="438.71" y="287.42" width="11.81" height="9.38" fill="#f5fbaf"/>
<rect x="450.37" y="287.42" width="11.81" height="9.38" fill="#f5fbaf"/>
<rect x="462.03" y="287.42" width="11.81" height="9.38" fill="#f5fbaf"/>
<rect x="473.69" y="287.42" width="11.81" height="9.38" fill="#dd4a4c"/>
<rect x="485.34" y="287.42" width="11.81" height="9.38" fill="#f5fbaf"/>
<rect x="497" y="287.42" width="11.81" height="9.38" fill="#f5fbaf"/>
<rect x="508.66" y="287.42" width="11.81" height="9.38" fill="#f5fbaf"/>
<rect x="520.32" y="287.42" width="11.81" height="9.38" fill="#f5fbaf"/>
<rect x="531.98" y="287.42" width="11.81" height="9.38" fill="#f5fbaf"/>
<rect x="543.63" y="287.42" width="11.81" height="9.38" fill="#f5fbaf"/>
<rect x="555.29" y="287.42" width="11.81" height="9.38" fill="#f5fbaf"/>
<rect x="566.95" y="287.42" width="11.81" height="9.38" fill="#f5fbaf"/>
<rect x="578.61" y="287.42" width="11.81" height="9.38" fill="#f5fbaf"/>
<rect x="590.27" y="287.42" width="11.81" height="9.38" fill="#f5fbaf"/>
<rect x="601.93" y="287.42" width="11.81" height="9.38" fill="#f5fbaf"/>
<rect x="613.58" y="287.42" width="11.81" height="9.38" fill="#f5fbaf"/>
<rect x="625.24" y="287.42" width="11.66" height="9.38" fill="#f5fbaf"/>
<rect x="135.6" y="296.36" width="11.81" height="9.38" fill="#f5fbaf"/>
<rect x="147.26" y="296.36" width="11.81" height="9.38" fill="#fed480"/>
<rect x="158.92" y="296.36" width="11.81" height="9.38" fill="#ffffbf"/>
<rect x="170.57" y="296.36" width="11.81" height="9.38" fill="#ffffbf"/>
<rect x="182.23" y="296.36" width="11.81" height="9.38" fill="#fff2a9"/>
<rect x="193.89" y="296.36" width="11.81" height="9.38" fill="#ffffbf"/>
<rect x="205.55" y="296.36" width="11.81" height="9.38" fill="#ffffbf"/>
<rect x="217.21" y="296.36" width="11.81" height="9.38" fill="#ffffbf"/>
<rect x="228.87" y="296.36" width="11.81" height="9.38" fill="#fca95f"/>
<rect x="240.52" y="296.36" width="11.81" height="9.38" fill="#eaf79e"/>
<rect x="252.18" y="296.36" width="11.81" height="9.38" fill="#fee594"/>
<rect x="263.84" y="296.36" width="11.81" height="9.38" fill="#eaf79e"/>
<rect x="275.5" y="296.36" width="11.81" height="9.38" fill="#f5fbaf"/>
<rect x="287.16" y="296.36" width="11.81" height="9.38" fill="#eaf79e"/>
<rect x="298.81" y="296.36" width="11.81" height="9.38" fill="#fff2a9"/>
<rect x="310.47" y="296.36" width="11.81" height="9.38" fill="#eaf79e"/>
<rect x="322.13" y="296.36" width="11.81" height="9.38" fill="#f88e52"/>
<rect x="333.79" y="296.36" width="11.81" height="9.38" fill="#eaf79e"/>
<rect x="345.45" y="296.36" width="11.81" height="9.38" fill="#eaf79e"/>
<rect x="357.1" y="296.36" width="11.81" height="9.38" fill="#eaf79e"/>
<rect x="368.76" y="296.36" width="11.81" height="9.38" fill="#fed480"/>
<rect x="380.42" y="296.36" width="11.81" height="9.38" fill="#ffffbf"/>
<rect x="392.08" y="296.36" width="11.81" height="9.38" fill="#fff2a9"/>
<rect x="403.74" y="296.36" width="11.81" height="9.38" fill="#fff2a9"/>
<rect x="415.4" y="296.36" width="11.81" height="9.38" fill="#f5fbaf"/>
<rect x="427.05" y="296.36" width="11.81" height="9.38" fill="#eaf79e"/>
<rect x="438.71" y="296.36" width="11.81" height="9.38" fill="#fed480"/>
<rect x="450.37" y="296.36" width="11.81" height="9.38" fill="#fff2a9"/>
<rect x="462.03" y="296.36" width="11.81" height="9.38" fill="#eaf79e"/>
<rect x="473.69" y="296.36" width="11.81" height="9.38" fill="#eaf79e"/>
<rect x="485.34" y="296.36" width="11.81" height="9.38" fill="#eaf79e"/>
<rect x="497" y="296.36" width="11.81" height="9.38" fill="#eaf79e"/>
<rect x="508.66" y="296.36" width="11.81" height="9.38" fill="#ffffbf"/>
<rect x="520.32" y="296.36" width="11.81" height="9.38" fill="#fed480"/>
<rect x="531.98" y="296.36" width="11.81" height="9.38" fill="#f5fbaf"/>
<rect x="543.63" y="296.36" width="11.81" height="9.38" fill="#f5fbaf"/>
<rect x="555.29" y="296.36" width="11.81" height="9.38" fill="#eaf79e"/>
<rect x="566.95" y="296.36" width="11.81" height="9.38" fill="#f88e52"/>
<rect x="578.61" y="296.36" width="11.81" height="9.38" fill="#eaf79e"/>
<rect x="590.27" y="296.36" width="11.81" height="9.38" fill="#fed480"/>
<rect x="601.93" y="296.36" width="11.81" height="9.38" fill="#fca95f"/>
<rect x="613.58" y="296.36" width="11.81" height="9.38" fill="#f5fbaf"/>
<rect x="625.24" y="296.36" width="11.66" height="9.38" fill="#eaf79e"/>
<rect x="135.6" y="305.29" width="11.81" height="9.38" fill="#f5fbaf"/>
<rect x="147.26" y="305.29" width="11.81" height="9.38" fill="#ffffbf"/>
<rect x="158.92" y="305.29" width="11.81" height="9.38" fill="#ffffbf"/>
<rect x="170.57" y="305.29" width="11.81" height="9.38" fill="#d7ef9b"/>
<rect x="182.23" y="305.29" width="11.81" height="9.38" fill="#fed480"/>
<rect x="193.89" y="305.29" width="11.81" height="9.38" fill="#ffffbf"/>
<rect x="205.55" y="305.29" width="11.81" height="9.38" fill="#ffffbf"/>
<rect x="217.21" y="305.29" width="11.81" height="9.38" fill="#ea5d47"/>
<rect x="228.87" y="305.29" width="11.81" height="9.38" fill="#fff2a9"/>
<rect x="240.52" y="305.29" width="11.81" height="9.38" fill="#eaf79e"/>
<rect x="252.18" y="305.29" width="11.81" height="9.38" fill="#f5fbaf"/>
<rect x="263.84" y="305.29" width="11.81" height="9.38" fill="#ffffbf"/>
<rect x="275.5" y="305.29" width="11.81" height="9.38" fill="#f5fbaf"/>
<rect x="287.16" y="305.29" width="11.81" height="9.38" fill="#f5fbaf"/>
<rect x="298.81" y="305.29" width="11.81" height="9.38" fill="#ea5d47"/>
<rect x="310.47" y="305.29" width="11.81" height="9.38" fill="#ffffbf"/>
<rect x="322.13" y="305.29" width="11.81" height="9.38" fill="#eaf79e"/>
<rect x="333.79" y="305.29" width="11.81" height="9.38" fill="#ffffbf"/>
<rect x="345.45" y="305.29" width="11.81" height="9.38" fill="#d7ef9b"/>
<rect x="357.1" y="305.29" width="11.81" height="9.38" fill="#eaf79e"/>
<rect x="368.76" y="305.29" width="11.81" height="9.38" fill="#f5fbaf"/>
<rect x="380.42" y="305.29" width="11.81" height="9.38" fill="#fed480"/>
<rect x="392.08" y="305.29" width="11.81" height="9.38" fill="#ffffbf"/>
<rect x="403.74" y="305.29" width="11.81" height="9.38" fill="#eaf79e"/>
<rect x="415.4" y="305.29" width="11.81" height="9.38" fill="#d7ef9b"/>
<rect x="427.05" y="305.29" width="11.81" height="9.38" fill="#ffffbf"/>
<rect x="438.71" y="305.29" width="11.81" height="9.38" fill="#eaf79e"/>
<rect x="450.37" y="305.29" width="11.81" height="9.38" fill="#ffffbf"/>
<rect x="462.03" y="305.29" width="11.81" height="9.38" fill="#ffffbf"/>
<rect x="473.69" y="305.29" width="11.81" height="9.38" fill="#f5fbaf"/>
<rect x="485.34" y="305.29" width="11.81" height="9.38" fill="#f5fbaf"/>
<rect x="497" y="305.29" width="11.81" height="9.38" fill="#fff2a9"/>
<rect x="508.66" y="305.29" width="11.81" height="9.38" fill="#ffffbf"/>
<rect x="520.32" y="305.29" width="11.81" height="9.38" fill="#f5fbaf"/>
<rect x="531.98" y="305.29" width="11.81" height="9.38" fill="#eaf79e"/>
<rect x="543.63" y="305.29" width="11.81" height="9.38" fill="#ffffbf"/>
<rect x="555.29" y="305.29" width="11.81" height="9.38" fill="#fdbf6f"/>
<rect x="566.95" y="305.29" width="11.81" height="9.38" fill="#fdbf6f"/>
<rect x="578.61" y="305.29" width="11.81" height="9.38" fill="#d7ef9b"/>
<rect x="590.27" y="305.29" width="11.81" height="9.38" fill="#f5fbaf"/>
<rect x="601.93" y="305.29" width="11.81" height="9.38" fill="#f5fbaf"/>
<rect x="613.58" y="305.29" width="11.81" height="9.38" fill="#eaf79e"/>
<rect x="625.24" y="305.29" width="11.66" height="9.38" fill="#fdbf6f"/>
<rect x="135.6" y="314.23" width="11.81" height="9.38" fill="#f57246"/>
<rect x="147.26" y="314.23" width="11.81" height="9.38" fill="#f5fbaf"/>
<rect x="158.92" y="314.23" width="11.81" height="9.38" fill="#f5fbaf"/>
<rect x="170.57" y="314.23" width="11.81" height="9.38" fill="#fff2a9"/>
<rect x="182.23" y="314.23" width="11.81" height="9.38" fill="#f5fbaf"/>
<rect x="193.89" y="314.23" width="11.81" height="9.38" fill="#f5fbaf"/>
<rect x="205.55" y="314.23" width="11.81" height="9.38" fill="#f5fbaf"/>
<rect x="217.21" y="314.23" width="11.81" height="9.38" fill="#f5fbaf"/>
<rect x="228.87" y="314.23" width="11.81" height="9.38" fill="#fee594"/>
<rect x="240.52" y="314.23" width="11.81" height="9.38" fill="#f5fbaf"/>
<rect x="252.18" y="314.23" width="11.81" height="9.38" fill="#f5fbaf"/>
<rect x="263.84" y="314.23" width="11.81" height="9.38" fill="#f5fbaf"/>
<rect x="275.5" y="314.23" width="11.81" height="9.38" fill="#fca95f"/>
<rect x="287.16" y="314.23" width="11.81" height="9.38" fill="#f5fbaf"/>
<rect x="298.81" y="314.23" width="11.81" height="9.38" fill="#f5fbaf"/>
<rect x="310.47" y="314.23" width="11.81" height="9.38" fill="#f5fbaf"/>
<rect x="322.13" y="314.23" width="11.81" height="9.38" fill="#f5fbaf"/>
<rect x="333.79" y="314.23" width="11.81" height="9.38" fill="#b51a47"/>
<rect x="345.45" y="314.23" width="11.81" height="9.38" fill="#f5fbaf"/>
<rect x="357.1" y="314.23" width="11.81" height="9.38" fill="#f5fbaf"/>
<rect x="368.76" y="314.23" width="11.81" height="9.38" fill="#f5fbaf"/>
<rect x="380.42" y="314.23" width="11.81" height="9.38" fill="#f5fbaf"/>
<rect x="392.08" y="314.23" width="11.81" height="9.38" fill="#f5fbaf"/>
<rect x="403.74" y="314.23" width="11.81" height="9.38" fill="#f5fbaf"/>
<rect x="415.4" y="314.23" width="11.81" height="9.38" fill="#ffffbf"/>
<rect x="427.05" y="314.23" width="11.81" height="9.38" fill="#f5fbaf"/>
<rect x="438.71" y="314.23" width="11.81" height="9.38" fill="#f5fbaf"/>
<rect x="450.37" y="314.23" width="11.81" height="9.38" fill="#f5fbaf"/>
<rect x="462.03" y="314.23" width="11.81" height="9.38" fill="#ffffbf"/>
<rect x="473.69" y="314.23" width="11.81" height="9.38" fill="#f5fbaf"/>
<rect x="485.34" y="314.23" width="11.81" height="9.38" fill="#fee594"/>
<rect x="497" y="314.23" width="11.81" height="9.38" fill="#f5fbaf"/>
<rect x="508.66" y="314.23" width="11.81" height="9.38" fill="#f5fbaf"/>
<rect x="520.32" y="314.23" width="11.81" height="9.38" fill="#fff2a9"/>
<rect x="531.98" y="314.23" width="11.81" height="9.38" fill="#f5fbaf"/>
<rect x="543.63" y="314.23" width="11.81" height="9.38" fill="#ffffbf"/>
<rect x="555.29" y="314.23" width="11.81" height="9.38" fill="#f5fbaf"/>
<rect x="566.95" y="314.23" width="11.81" height="9.38" fill="#f5fbaf"/>
<rect x="578.61" y="314.23" width="11.81" height="9.38" fill="#f5fbaf"/>
<rect x="590.27" y="314.23" width="11.81" height="9.38" fill="#f5fbaf"/>
<rect x="601.93" y="314.23" width="11.81" height="9.38" fill="#fff2a9"/>
<rect x="613.58" y="314.23" width="11.81" height="9.38" fill="#f5fbaf"/>
<rect x="625.24" y="314.23" width="11.66" height="9.38" fill="#f5fbaf"/>
<rect x="135.6" y="323.16" width="11.81" height="9.38" fill="#eaf79e"/>
<rect x="147.26" y="323.16" width="11.81" height="9.38" fill="#fff2a9"/>
<rect x="158.92" y="323.16" width="11.81" height="9.38" fill="#ffffbf"/>
<rect x="170.57" y="323.16" width="11.81" height="9.38" fill="#fff2a9"/>
<rect x="182.23" y="323.16" width="11.81" height="9.38" fill="#fdbf6f"/>
<rect x="193.89" y="323.16" width="11.81" height="9.38" fill="#ffffbf"/>
<rect x="205.55" y="323.16" width="11.81" height="9.38" fill="#fdbf6f"/>
<rect x="217.21" y="323.16" width="11.81" height="9.38" fill="#eaf79e"/>
<rect x="228.87" y="323.16" width="11.81" height="9.38" fill="#b51a47"/>
<rect x="240.52" y="323.16" width="11.81" height="9.38" fill="#fff2a9"/>
<rect x="252.18" y="323.16" width="11.81" height="9.38" fill="#fdbf6f"/>
<rect x="263.84" y="323.16" width="11.81" height="9.38" fill="#fed480"/>
<rect x="275.5" y="323.16" width="11.81" height="9.38" fill="#f5fbaf"/>
<rect x="287.16" y="323.16" width="11.81" height="9.38" fill="#fee594"/>
<rect x="298.81" y="323.16" width="11.81" height="9.38" fill="#d7ef9b"/>
<rect x="310.47" y="323.16" width="11.81" height="9.38" fill="#ffffbf"/>
<rect x="322.13" y="323.16" width="11.81" height="9.38" fill="#f5fbaf"/>
<rect x="333.79" y="323.16" width="11.81" height="9.38" fill="#ffffbf"/>
<rect x="345.45" y="323.16" width="11.81" height="9.38" fill="#d7ef9b"/>
<rect x="357.1" y="323.16" width="11.81" height="9.38" fill="#f5fbaf"/>
<rect x="368.76" y="323.16" width="11.81" height="9.38" fill="#f5fbaf"/>
<rect x="380.42" y="323.16" width="11.81" height="9.38" fill="#f5fbaf"/>
<rect x="392.08" y="323.16" width="11.81" height="9.38" fill="#eaf79e"/>
<rect x="403.74" y="323.16" width="11.81" height="9.38" fill="#ffffbf"/>
<rect x="415.4" y="323.16" width="11.81" height="9.38" fill="#f5fbaf"/>
<rect x="427.05" y="323.16" width="11.81" height="9.38" fill="#ffffbf"/>
<rect x="438.71" y="323.16" width="11.81" height="9.38" fill="#eaf79e"/>
<rect x="450.37" y="323.16" width="11.81" height="9.38" fill="#f5fbaf"/>
<rect x="462.03" y="323.16" width="11.81" height="9.38" fill="#eaf79e"/>
<rect x="473.69" y="323.16" width="11.81" height="9.38" fill="#f5fbaf"/>
<rect x="485.34" y="323.16" width="11.81" height="9.38" fill="#fee594"/>
<rect x="497" y="323.16" width="11.81" height="9.38" fill="#f5fbaf"/>
<rect x="508.66" y="323.16" width="11.81" height="9.38" fill="#eaf79e"/>
<rect x="520.32" y="323.16" width="11.81" height="9.38" fill="#f5fbaf"/>
<rect x="531.98" y="323.16" width="11.81" height="9.38" fill="#d7ef9b"/>
<rect x="543.63" y="323.16" width="11.81" height="9.38" fill="#f5fbaf"/>
<rect x="555.29" y="323.16" width="11.81" height="9.38" fill="#ffffbf"/>
<rect x="566.95" y="323.16" width="11.81" height="9.38" fill="#f5fbaf"/>
<rect x="578.61" y="323.16" width="11.81" height="9.38" fill="#fee594"/>
<rect x="590.27" y="323.16" width="11.81" height="9.38" fill="#f5fbaf"/>
<rect x="601.93" y="323.16" width="11.81" height="9.38" fill="#fee594"/>
<rect x="613.58" y="323.16" width="11.81" height="9.38" fill="#f5fbaf"/>
<rect x="625.24" y="323.16" width="11.66" height="9.38" fill="#eaf79e"/>
<rect x="135.6" y="332.1" width="11.81" height="9.38" fill="#f88e52"/>
<rect x="147.26" y="332.1" width="11.81" height="9.38" fill="#fca95f"/>
<rect x="158.92" y="332.1" width="11.81" height="9.38" fill="#eaf79e"/>
<rect x="170.57" y="332.1" width="11.81" height="9.38" fill="#d7ef9b"/>
<rect x="182.23" y="332.1" width="11.81" height="9.38" fill="#f88e52"/>
<rect x="193.89" y="332.1" width="11.81" height="9.38" fill="#ffffbf"/>
<rect x="205.55" y="332.1" width="11.81" height="9.38" fill="#ffffbf"/>
<rect x="217.21" y="332.1" width="11.81" height="9.38" fill="#ffffbf"/>
<rect x="228.87" y="332.1" width="11.81" height="9.38" fill="#fff2a9"/>
<rect x="240.52" y="332.1" width="11.81" height="9.38" fill="#f5fbaf"/>
<rect x="252.18" y="332.1" width="11.81" height="9.38" fill="#fff2a9"/>
<rect x="263.84" y="332.1" width="11.81" height="9.38" fill="#ffffbf"/>
<rect x="275.5" y="332.1" width="11.81" height="9.38" fill="#fed480"/>
<rect x="287.16" y="332.1" width="11.81" height="9.38" fill="#eaf79e"/>
<rect x="298.81" y="332.1" width="11.81" height="9.38" fill="#fee594"/>
<rect x="310.47" y="332.1" width="11.81" height="9.38" fill="#eaf79e"/>
<rect x="322.13" y="332.1" width="11.81" height="9.38" fill="#f5fbaf"/>
<rect x="333.79" y="332.1" width="11.81" height="9.38" fill="#f5fbaf"/>
<rect x="345.45" y="332.1" width="11.81" height="9.38" fill="#d7ef9b"/>
<rect x="357.1" y="332.1" width="11.81" height="9.38" fill="#eaf79e"/>
<rect x="368.76" y="332.1" width="11.81" height="9.38" fill="#fff2a9"/>
<rect x="380.42" y="332.1" width="11.81" height="9.38" fill="#eaf79e"/>
<rect x="392.08" y="332.1" width="11.81" height="9.38" fill="#fee594"/>
<rect x="403.74" y="332.1" width="11.81" height="9.38" fill="#d7ef9b"/>
<rect x="415.4" y="332.1" width="11.81" height="9.38" fill="#d7ef9b"/>
<rect x="427.05" y="332.1" width="11.81" height="9.38" fill="#ffffbf"/>
<rect x="438.71" y="332.1" width="11.81" height="9.38" fill="#eaf79e"/>
<rect x="450.37" y="332.1" width="11.81" height="9.38" fill="#f5fbaf"/>
<rect x="462.03" y="332.1" width="11.81" height="9.38" fill="#f5fbaf"/>
<rect x="473.69" y="332.1" width="11.81" height="9.38" fill="#f5fbaf"/>
<rect x="485.34" y="332.1" width="11.81" height="9.38" fill="#f5fbaf"/>
<rect x="497" y="332.1" width="11.81" height="9.38" fill="#fee594"/>
<rect x="508.66" y="332.1" width="11.81" height="9.38" fill="#fca95f"/>
<rect x="520.32" y="332.1" width="11.81" height="9.38" fill="#ffffbf"/>
<rect x="531.98" y="332.1" width="11.81" height="9.38" fill="#d7ef9b"/>
<rect x="543.63" y="332.1" width="11.81" height="9.38" fill="#ffffbf"/>
<rect x="555.29" y="332.1" width="11.81" height="9.38" fill="#fff2a9"/>
<rect x="566.95" y="332.1" width="11.81" height="9.38" fill="#fee594"/>
<rect x="578.61" y="332.1" width="11.81" height="9.38" fill="#f5fbaf"/>
<rect x="590.27" y="332.1" width="11.81" height="9.38" fill="#f5fbaf"/>
<rect x="601.93" y="332.1" width="11.81" height="9.38" fill="#f5fbaf"/>
<rect x="613.58" y="332.1" width="11.81" height="9.38" fill="#eaf79e"/>
<rect x="625.24" y="332.1" width="11.66" height="9.38" fill="#fed480"/>
<rect x="135.6" y="341.03" width="11.81" height="9.38" fill="#fff2a9"/>
<rect x="147.26" y="341.03" width="11.81" height="9.38" fill="#f5fbaf"/>
<rect x="158.92" y="341.03" width="11.81" height="9.38" fill="#fca95f"/>
<rect x="170.57" y="341.03" width="11.81" height="9.38" fill="#dd4a4c"/>
<rect x="182.23" y="341.03" width="11.81" height="9.38" fill="#f5fbaf"/>
<rect x="193.89" y="341.03" width="11.81" height="9.38" fill="#fee594"/>
<rect x="205.55" y="341.03" width="11.81" height="9.38" fill="#bfe5a0"/>
<rect x="217.21" y="341.03" width="11.81" height="9.38" fill="#f5fbaf"/>
<rect x="228.87" y="341.03" width="11.81" height="9.38" fill="#eaf79e"/>
<rect x="240.52" y="341.03" width="11.81" height="9.38" fill="#fee594"/>
<rect x="252.18" y="341.03" width="11.81" height="9.38" fill="#fee594"/>
<rect x="263.84" y="341.03" width="11.81" height="9.38" fill="#eaf79e"/>
<rect x="275.5" y="341.03" width="11.81" height="9.38" fill="#fed480"/>
<rect x="287.16" y="341.03" width="11.81" height="9.38" fill="#fed480"/>
<rect x="298.81" y="341.03" width="11.81" height="9.38" fill="#f5fbaf"/>
<rect x="310.47" y="341.03" width="11.81" height="9.38" fill="#ffffbf"/>
<rect x="322.13" y="341.03" width="11.81" height="9.38" fill="#f5fbaf"/>
<rect x="333.79" y="341.03" width="11.81" height="9.38" fill="#ffffbf"/>
<rect x="345.45" y="341.03" width="11.81" height="9.38" fill="#bfe5a0"/>
<rect x="357.1" y="341.03" width="11.81" height="9.38" fill="#ffffbf"/>
<rect x="368.76" y="341.03" width="11.81" height="9.38" fill="#fed480"/>
<rect x="380.42" y="341.03" width="11.81" height="9.38" fill="#fee594"/>
<rect x="392.08" y="341.03" width="11.81" height="9.38" fill="#f5fbaf"/>
<rect x="403.74" y="341.03" width="11.81" height="9.38" fill="#fed480"/>
<rect x="415.4" y="341.03" width="11.81" height="9.38" fill="#f5fbaf"/>
<rect x="427.05" y="341.03" width="11.81" height="9.38" fill="#f5fbaf"/>
<rect x="438.71" y="341.03" width="11.81" height="9.38" fill="#f88e52"/>
<rect x="450.37" y="341.03" width="11.81" height="9.38" fill="#fed480"/>
<rect x="462.03" y="341.03" width="11.81" height="9.38" fill="#d7ef9b"/>
<rect x="473.69" y="341.03" width="11.81" height="9.38" fill="#eaf79e"/>
<rect x="485.34" y="341.03" width="11.81" height="9.38" fill="#fed480"/>
<rect x="497" y="341.03" width="11.81" height="9.38" fill="#fff2a9"/>
<rect x="508.66" y="341.03" width="11.81" height="9.38" fill="#eaf79e"/>
<rect x="520.32" y="341.03" width="11.81" height="9.38" fill="#ffffbf"/>
<rect x="531.98" y="341.03" width="11.81" height="9.38" fill="#d7ef9b"/>
<rect x="543.63" y="341.03" width="11.81" height="9.38" fill="#f5fbaf"/>
<rect x="555.29" y="341.03" width="11.81" height="9.38" fill="#f5fbaf"/>
<rect x="566.95" y="341.03" width="11.81" height="9.38" fill="#ffffbf"/>
<rect x="578.61" y="341.03" width="11.81" height="9.38" fill="#f5fbaf"/>
<rect x="590.27" y="341.03" width="11.81" height="9.38" fill="#f5fbaf"/>
<rect x="601.93" y="341.03" width="11.81" height="9.38" fill="#f5fbaf"/>
<rect x="613.58" y="341.03" width="11.81" height="9.38" fill="#fff2a9"/>
<rect x="625.24" y="341.03" width="11.66" height="9.38" fill="#eaf79e"/>
<rect x="135.6" y="349.97" width="11.81" height="9.38" fill="#eaf79e"/>
<rect x="147.26" y="349.97" width="11.81" height="9.38" fill="#fee594"/>
<rect x="158.92" y="349.97" width="11.81" height="9.38" fill="#fee594"/>
<rect x="170.57" y="349.97" width="11.81" height="9.38" fill="#d7ef9b"/>
<rect x="182.23" y="349.97" width="11.81" height="9.38" fill="#b51a47"/>
<rect x="193.89" y="349.97" width="11.81" height="9.38" fill="#fff2a9"/>
<rect x="205.55" y="349.97" width="11.81" height="9.38" fill="#eaf79e"/>
<rect x="217.21" y="349.97" width="11.81" height="9.38" fill="#fff2a9"/>
<rect x="228.87" y="349.97" width="11.81" height="9.38" fill="#f5fbaf"/>
<rect x="240.52" y="349.97" width="11.81" height="9.38" fill="#ffffbf"/>
<rect x="252.18" y="349.97" width="11.81" height="9.38" fill="#f5fbaf"/>
<rect x="263.84" y="349.97" width="11.81" height="9.38" fill="#fed480"/>
<rect x="275.5" y="349.97" width="11.81" height="9.38" fill="#fff2a9"/>
<rect x="287.16" y="349.97" width="11.81" height="9.38" fill="#ffffbf"/>
<rect x="298.81" y="349.97" width="11.81" height="9.38" fill="#fca95f"/>
<rect x="310.47" y="349.97" width="11.81" height="9.38" fill="#f5fbaf"/>
<rect x="322.13" y="349.97" width="11.81" height="9.38" fill="#ffffbf"/>
<rect x="333.79" y="349.97" width="11.81" height="9.38" fill="#fff2a9"/>
<rect x="345.45" y="349.97" width="11.81" height="9.38" fill="#eaf79e"/>
<rect x="357.1" y="349.97" width="11.81" height="9.38" fill="#ffffbf"/>
<rect x="368.76" y="349.97" width="11.81" height="9.38" fill="#eaf79e"/>
<rect x="380.42" y="349.97" width="11.81" height="9.38" fill="#fed480"/>
<rect x="392.08" y="349.97" width="11.81" height="9.38" fill="#ffffbf"/>
<rect x="403.74" y="349.97" width="11.81" height="9.38" fill="#ffffbf"/>
<rect x="415.4" y="349.97" width="11.81" height="9.38" fill="#eaf79e"/>
<rect x="427.05" y="349.97" width="11.81" height="9.38" fill="#eaf79e"/>
<rect x="438.71" y="349.97" width="11.81" height="9.38" fill="#f5fbaf"/>
<rect x="450.37" y="349.97" width="11.81" height="9.38" fill="#ffffbf"/>
<rect x="462.03" y="349.97" width="11.81" height="9.38" fill="#ffffbf"/>
<rect x="473.69" y="349.97" width="11.81" height="9.38" fill="#fff2a9"/>
<rect x="485.34" y="349.97" width="11.81" height="9.38" fill="#f5fbaf"/>
<rect x="497" y="349.97" width="11.81" height="9.38" fill="#eaf79e"/>
<rect x="508.66" y="349.97" width="11.81" height="9.38" fill="#f5fbaf"/>
<rect x="520.32" y="349.97" width="11.81" height="9.38" fill="#ffffbf"/>
<rect x="531.98" y="349.97" width="11.81" height="9.38" fill="#eaf79e"/>
<rect x="543.63" y="349.97" width="11.81" height="9.38" fill="#ffffbf"/>
<rect x="555.29" y="349.97" width="11.81" height="9.38" fill="#fff2a9"/>
<rect x="566.95" y="349.97" width="11.81" height="9.38" fill="#eaf79e"/>
<rect x="578.61" y="349.97" width="11.81" height="9.38" fill="#f5fbaf"/>
<rect x="590.27" y="349.97" width="11.81" height="9.38" fill="#f5fbaf"/>
<rect x="601.93" y="349.97" width="11.81" height="9.38" fill="#f5fbaf"/>
<rect x="613.58" y="349.97" width="11.81" height="9.38" fill="#f5fbaf"/>
<rect x="625.24" y="349.97" width="11.66" height="9.38" fill="#fdbf6f"/>
<rect x="135.6" y="358.9" width="11.81" height="9.38" fill="#eaf79e"/>
<rect x="147.26" y="358.9" width="11.81" height="9.38" fill="#eaf79e"/>
<rect x="158.92" y="358.9" width="11.81" height="9.38" fill="#fdbf6f"/>
<rect x="170.57" y="358.9" width="11.81" height="9.38" fill="#ffffbf"/>
<rect x="182.23" y="358.9" width="11.81" height="9.38" fill="#fca95f"/>
<rect x="193.89" y="358.9" width="11.81" height="9.38" fill="#ea5d47"/>
<rect x="205.55" y="358.9" width="11.81" height="9.38" fill="#d7ef9b"/>
<rect x="217.21" y="358.9" width="11.81" height="9.38" fill="#f5fbaf"/>
<rect x="228.87" y="358.9" width="11.81" height="9.38" fill="#f57246"/>
<rect x="240.52" y="358.9" width="11.81" height="9.38" fill="#fff2a9"/>
<rect x="252.18" y="358.9" width="11.81" height="9.38" fill="#fed480"/>
<rect x="263.84" y="358.9" width="11.81" height="9.38" fill="#fee594"/>
<rect x="275.5" y="358.9" width="11.81" height="9.38" fill="#fed480"/>
<rect x="287.16" y="358.9" width="11.81" height="9.38" fill="#fed480"/>
<rect x="298.81" y="358.9" width="11.81" height="9.38" fill="#eaf79e"/>
<rect x="310.47" y="358.9" width="11.81" height="9.38" fill="#fed480"/>
<rect x="322.13" y="358.9" width="11.81" height="9.38" fill="#f5fbaf"/>
<rect x="333.79" y="358.9" width="11.81" height="9.38" fill="#f5fbaf"/>
<rect x="345.45" y="358.9" width="11.81" height="9.38" fill="#eaf79e"/>
<rect x="357.1" y="358.9" width="11.81" height="9.38" fill="#eaf79e"/>
<rect x="368.76" y="358.9" width="11.81" height="9.38" fill="#f5fbaf"/>
<rect x="380.42" y="358.9" width="11.81" height="9.38" fill="#ffffbf"/>
<rect x="392.08" y="358.9" width="11.81" height="9.38" fill="#eaf79e"/>
<rect x="403.74" y="358.9" width="11.81" height="9.38" fill="#f5fbaf"/>
<rect x="415.4" y="358.9" width="11.81" height="9.38" fill="#ffffbf"/>
<rect x="427.05" y="358.9" width="11.81" height="9.38" fill="#f5fbaf"/>
<rect x="438.71" y="358.9" width="11.81" height="9.38" fill="#eaf79e"/>
<rect x="450.37" y="358.9" width="11.81" height="9.38" fill="#f5fbaf"/>
<rect x="462.03" y="358.9" width="11.81" height="9.38" fill="#eaf79e"/>
<rect x="473.69" y="358.9" width="11.81" height="9.38" fill="#eaf79e"/>
<rect x="485.34" y="358.9" width="11.81" height="9.38" fill="#ffffbf"/>
<rect x="497" y="358.9" width="11.81" height="9.38" fill="#fff2a9"/>
<rect x="508.66" y="358.9" width="11.81" height="9.38" fill="#f5fbaf"/>
<rect x="520.32" y="358.9" width="11.81" height="9.38" fill="#ffffbf"/>
<rect x="531.98" y="358.9" width="11.81" height="9.38" fill="#eaf79e"/>
<rect x="543.63" y="358.9" width="11.81" height="9.38" fill="#eaf79e"/>
<rect x="555.29" y="358.9" width="11.81" height="9.38" fill="#fca95f"/>
<rect x="566.95" y="358.9" width="11.81" height="9.38" fill="#ffffbf"/>
<rect x="578.61" y="358.9" width="11.81" height="9.38" fill="#f5fbaf"/>
<rect x="590.27" y="358.9" width="11.81" height="9.38" fill="#f5fbaf"/>
<rect x="601.93" y="358.9" width="11.81" height="9.38" fill="#ffffbf"/>
<rect x="613.58" y="358.9" width="11.81" height="9.38" fill="#ffffbf"/>
<rect x="625.24" y="358.9" width="11.66" height="9.38" fill="#eaf79e"/>
<rect x="135.6" y="367.84" width="11.81" height="9.38" fill="#fed480"/>
<rect x="147.26" y="367.84" width="11.81" height="9.38" fill="#f88e52"/>
<rect x="158.92" y="367.84" width="11.81" height="9.38" fill="#f5fbaf"/>
<rect x="170.57" y="367.84" width="11.81" height="9.38" fill="#ffffbf"/>
<rect x="182.23" y="367.84" width="11.81" height="9.38" fill="#fca95f"/>
<rect x="193.89" y="367.84" width="11.81" height="9.38" fill="#ffffbf"/>
<rect x="205.55" y="367.84" width="11.81" height="9.38" fill="#cc344d"/>
<rect x="217.21" y="367.84" width="11.81" height="9.38" fill="#eaf79e"/>
<rect x="228.87" y="367.84" width="11.81" height="9.38" fill="#ffffbf"/>
<rect x="240.52" y="367.84" width="11.81" height="9.38" fill="#f5fbaf"/>
<rect x="252.18" y="367.84" width="11.81" height="9.38" fill="#ffffbf"/>
<rect x="263.84" y="367.84" width="11.81" height="9.38" fill="#ffffbf"/>
<rect x="275.5" y="367.84" width="11.81" height="9.38" fill="#ffffbf"/>
<rect x="287.16" y="367.84" width="11.81" height="9.38" fill="#ffffbf"/>
<rect x="298.81" y="367.84" width="11.81" height="9.38" fill="#eaf79e"/>
<rect x="310.47" y="367.84" width="11.81" height="9.38" fill="#eaf79e"/>
<rect x="322.13" y="367.84" width="11.81" height="9.38" fill="#d7ef9b"/>
<rect x="333.79" y="367.84" width="11.81" height="9.38" fill="#ffffbf"/>
<rect x="345.45" y="367.84" width="11.81" height="9.38" fill="#eaf79e"/>
<rect x="357.1" y="367.84" width="11.81" height="9.38" fill="#eaf79e"/>
<rect x="368.76" y="367.84" width="11.81" height="9.38" fill="#fca95f"/>
<rect x="380.42" y="367.84" width="11.81" height="9.38" fill="#eaf79e"/>
<rect x="392.08" y="367.84" width="11.81" height="9.38" fill="#fed480"/>
<rect x="403.74" y="367.84" width="11.81" height="9.38" fill="#eaf79e"/>
<rect x="415.4" y="367.84" width="11.81" height="9.38" fill="#f5fbaf"/>
<rect x="427.05" y="367.84" width="11.81" height="9.38" fill="#f5fbaf"/>
<rect x="438.71" y="367.84" width="11.81" height="9.38" fill="#eaf79e"/>
<rect x="450.37" y="367.84" width="11.81" height="9.38" fill="#ffffbf"/>
<rect x="462.03" y="367.84" width="11.81" height="9.38" fill="#f5fbaf"/>
<rect x="473.69" y="367.84" width="11.81" height="9.38" fill="#ffffbf"/>
<rect x="485.34" y="367.84" width="11.81" height="9.38" fill="#eaf79e"/>
<rect x="497" y="367.84" width="11.81" height="9.38" fill="#f5fbaf"/>
<rect x="508.66" y="367.84" width="11.81" height="9.38" fill="#fff2a9"/>
<rect x="520.32" y="367.84" width="11.81" height="9.38" fill="#ffffbf"/>
<rect x="531.98" y="367.84" width="11.81" height="9.38" fill="#eaf79e"/>
<rect x="543.63" y="367.84" width="11.81" height="9.38" fill="#fff2a9"/>
<rect x="555.29" y="367.84" width="11.81" height="9.38" fill="#f5fbaf"/>
<rect x="566.95" y="367.84" width="11.81" height="9.38" fill="#f5fbaf"/>
<rect x="578.61" y="367.84" width="11.81" height="9.38" fill="#f5fbaf"/>
<rect x="590.27" y="367.84" width="11.81" height="9.38" fill="#f5fbaf"/>
<rect x="601.93" y="367.84" width="11.81" height="9.38" fill="#f5fbaf"/>
<rect x="613.58" y="367.84" width="11.81" height="9.38" fill="#eaf79e"/>
<rect x="625.24" y="367.84" width="11.66" height="9.38" fill="#fed480"/>
<rect x="135.6" y="376.77" width="11.81" height="9.38" fill="#f57246"/>
<rect x="147.26" y="376.77" width="11.81" height="9.38" fill="#fdbf6f"/>
<rect x="158.92" y="376.77" width="11.81" height="9.38" fill="#fdbf6f"/>
<rect x="170.57" y="376.77" width="11.81" height="9.38" fill="#fdbf6f"/>
<rect x="182.23" y="376.77" width="11.81" height="9.38" fill="#fff2a9"/>
<rect x="193.89" y="376.77" width="11.81" height="9.38" fill="#fff2a9"/>
<rect x="205.55" y="376.77" width="11.81" height="9.38" fill="#ffffbf"/>
<rect x="217.21" y="376.77" width="11.81" height="9.38" fill="#d7ef9b"/>
<rect x="228.87" y="376.77" width="11.81" height="9.38" fill="#ffffbf"/>
<rect x="240.52" y="376.77" width="11.81" height="9.38" fill="#fdbf6f"/>
<rect x="252.18" y="376.77" width="11.81" height="9.38" fill="#fca95f"/>
<rect x="263.84" y="376.77" width="11.81" height="9.38" fill="#fca95f"/>
<rect x="275.5" y="376.77" width="11.81" height="9.38" fill="#fdbf6f"/>
<rect x="287.16" y="376.77" width="11.81" height="9.38" fill="#fff2a9"/>
<rect x="298.81" y="376.77" width="11.81" height="9.38" fill="#d7ef9b"/>
<rect x="310.47" y="376.77" width="11.81" height="9.38" fill="#fdbf6f"/>
<rect x="322.13" y="376.77" width="11.81" height="9.38" fill="#f5fbaf"/>
<rect x="333.79" y="376.77" width="11.81" height="9.38" fill="#f5fbaf"/>
<rect x="345.45" y="376.77" width="11.81" height="9.38" fill="#d7ef9b"/>
<rect x="357.1" y="376.77" width="11.81" height="9.38" fill="#eaf79e"/>
<rect x="368.76" y="376.77" width="11.81" height="9.38" fill="#fff2a9"/>
<rect x="380.42" y="376.77" width="11.81" height="9.38" fill="#d7ef9b"/>
<rect x="392.08" y="376.77" width="11.81" height="9.38" fill="#f5fbaf"/>
<rect x="403.74" y="376.77" width="11.81" height="9.38" fill="#ffffbf"/>
<rect x="415.4" y="376.77" width="11.81" height="9.38" fill="#f5fbaf"/>
<rect x="427.05" y="376.77" width="11.81" height="9.38" fill="#fff2a9"/>
<rect x="438.71" y="376.77" width="11.81" height="9.38" fill="#f5fbaf"/>
<rect x="450.37" y="376.77" width="11.81" height="9.38" fill="#eaf79e"/>
<rect x="462.03" y="376.77" width="11.81" height="9.38" fill="#d7ef9b"/>
<rect x="473.69" y="376.77" width="11.81" height="9.38" fill="#ffffbf"/>
<rect x="485.34" y="376.77" width="11.81" height="9.38" fill="#fdbf6f"/>
<rect x="497" y="376.77" width="11.81" height="9.38" fill="#ffffbf"/>
<rect x="508.66" y="376.77" width="11.81" height="9.38" fill="#eaf79e"/>
<rect x="520.32" y="376.77" width="11.81" height="9.38" fill="#ffffbf"/>
<rect x="531.98" y="376.77" width="11.81" height="9.38" fill="#bfe5a0"/>
<rect x="543.63" y="376.77" width="11.81" height="9.38" fill="#eaf79e"/>
<rect x="555.29" y="376.77" width="11.81" height="9.38" fill="#ffffbf"/>
<rect x="566.95" y="376.77" width="11.81" height="9.38" fill="#f5fbaf"/>
<rect x="578.61" y="376.77" width="11.81" height="9.38" fill="#f5fbaf"/>
<rect x="590.27" y="376.77" width="11.81" height="9.38" fill="#ffffbf"/>
<rect x="601.93" y="376.77" width="11.81" height="9.38" fill="#f5fbaf"/>
<rect x="613.58" y="376.77" width="11.81" height="9.38" fill="#f5fbaf"/>
<rect x="625.24" y="376.77" width="11.66" height="9.38" fill="#eaf79e"/>
<rect x="135.6" y="385.71" width="11.81" height="9.38" fill="#f5fbaf"/>
<rect x="147.26" y="385.71" width="11.81" height="9.38" fill="#ffffbf"/>
<rect x="158.92" y="385.71" width="11.81" height="9.38" fill="#ea5d47"/>
<rect x="170.57" y="385.71" width="11.81" height="9.38" fill="#f5fbaf"/>
<rect x="182.23" y="385.71" width="11.81" height="9.38" fill="#b51a47"/>
<rect x="193.89" y="385.71" width="11.81" height="9.38" fill="#fff2a9"/>
<rect x="205.55" y="385.71" width="11.81" height="9.38" fill="#eaf79e"/>
<rect x="217.21" y="385.71" width="11.81" height="9.38" fill="#ffffbf"/>
<rect x="228.87" y="385.71" width="11.81" height="9.38" fill="#ffffbf"/>
<rect x="240.52" y="385.71" width="11.81" height="9.38" fill="#fee594"/>
<rect x="252.18" y="385.71" width="11.81" height="9.38" fill="#fee594"/>
<rect x="263.84" y="385.71" width="11.81" height="9.38" fill="#fff2a9"/>
<rect x="275.5" y="385.71" width="11.81" height="9.38" fill="#eaf79e"/>
<rect x="287.16" y="385.71" width="11.81" height="9.38" fill="#ffffbf"/>
<rect x="298.81" y="385.71" width="11.81" height="9.38" fill="#eaf79e"/>
<rect x="310.47" y="385.71" width="11.81" height="9.38" fill="#fed480"/>
<rect x="322.13" y="385.71" width="11.81" height="9.38" fill="#ffffbf"/>
<rect x="333.79" y="385.71" width="11.81" height="9.38" fill="#fff2a9"/>
<rect x="345.45" y="385.71" width="11.81" height="9.38" fill="#eaf79e"/>
<rect x="357.1" y="385.71" width="11.81" height="9.38" fill="#fff2a9"/>
<rect x="368.76" y="385.71" width="11.81" height="9.38" fill="#eaf79e"/>
<rect x="380.42" y="385.71" width="11.81" height="9.38" fill="#f5fbaf"/>
<rect x="392.08" y="385.71" width="11.81" height="9.38" fill="#f5fbaf"/>
<rect x="403.74" y="385.71" width="11.81" height="9.38" fill="#f5fbaf"/>
<rect x="415.4" y="385.71" width="11.81" height="9.38" fill="#ffffbf"/>
<rect x="427.05" y="385.71" width="11.81" height="9.38" fill="#ffffbf"/>
<rect x="438.71" y="385.71" width="11.81" height="9.38" fill="#f5fbaf"/>
<rect x="450.37" y="385.71" width="11.81" height="9.38" fill="#f5fbaf"/>
<rect x="462.03" y="385.71" width="11.81" height="9.38" fill="#f5fbaf"/>
<rect x="473.69" y="385.71" width="11.81" height="9.38" fill="#f5fbaf"/>
<rect x="485.34" y="385.71" width="11.81" height="9.38" fill="#f5fbaf"/>
<rect x="497" y="385.71" width="11.81" height="9.38" fill="#ffffbf"/>
<rect x="508.66" y="385.71" width="11.81" height="9.38" fill="#ffffbf"/>
<rect x="520.32" y="385.71" width="11.81" height="9.38" fill="#ffffbf"/>
<rect x="531.98" y="385.71" width="11.81" height="9.38" fill="#eaf79e"/>
<rect x="543.63" y="385.71" width="11.81" height="9.38" fill="#f5fbaf"/>
<rect x="555.29" y="385.71" width="11.81" height="9.38" fill="#f5fbaf"/>
<rect x="566.95" y="385.71" width="11.81" height="9.38" fill="#f5fbaf"/>
<rect x="578.61" y="385.71" width="11.81" height="9.38" fill="#f5fbaf"/>
<rect x="590.27" y="385.71" width="11.81" height="9.38" fill="#f5fbaf"/>
<rect x="601.93" y="385.71" width="11.81" height="9.38" fill="#f5fbaf"/>
<rect x="613.58" y="385.71" width="11.81" height="9.38" fill="#f5fbaf"/>
<rect x="625.24" y="385.71" width="11.66" height="9.38" fill="#f5fbaf"/>
<rect x="135.6" y="394.64" width="11.81" height="9.38" fill="#fca95f"/>
<rect x="147.26" y="394.64" width="11.81" height="9.38" fill="#fdbf6f"/>
<rect x="158.92" y="394.64" width="11.81" height="9.38" fill="#ffffbf"/>
<rect x="170.57" y="394.64" width="11.81" height="9.38" fill="#f5fbaf"/>
<rect x="182.23" y="394.64" width="11.81" height="9.38" fill="#fca95f"/>
<rect x="193.89" y="394.64" width="11.81" height="9.38" fill="#f57246"/>
<rect x="205.55" y="394.64" width="11.81" height="9.38" fill="#fdbf6f"/>
<rect x="217.21" y="394.64" width="11.81" height="9.38" fill="#f5fbaf"/>
<rect x="228.87" y="394.64" width="11.81" height="9.38" fill="#ffffbf"/>
<rect x="240.52" y="394.64" width="11.81" height="9.38" fill="#ffffbf"/>
<rect x="252.18" y="394.64" width="11.81" height="9.38" fill="#f88e52"/>
<rect x="263.84" y="394.64" width="11.81" height="9.38" fill="#ffffbf"/>
<rect x="275.5" y="394.64" width="11.81" height="9.38" fill="#fee594"/>
<rect x="287.16" y="394.64" width="11.81" height="9.38" fill="#fff2a9"/>
<rect x="298.81" y="394.64" width="11.81" height="9.38" fill="#eaf79e"/>
<rect x="310.47" y="394.64" width="11.81" height="9.38" fill="#ffffbf"/>
<rect x="322.13" y="394.64" width="11.81" height="9.38" fill="#eaf79e"/>
<rect x="333.79" y="394.64" width="11.81" height="9.38" fill="#d7ef9b"/>
<rect x="345.45" y="394.64" width="11.81" height="9.38" fill="#d7ef9b"/>
<rect x="357.1" y="394.64" width="11.81" height="9.38" fill="#eaf79e"/>
<rect x="368.76" y="394.64" width="11.81" height="9.38" fill="#fca95f"/>
<rect x="380.42" y="394.64" width="11.81" height="9.38" fill="#d7ef9b"/>
<rect x="392.08" y="394.64" width="11.81" height="9.38" fill="#ffffbf"/>
<rect x="403.74" y="394.64" width="11.81" height="9.38" fill="#eaf79e"/>
<rect x="415.4" y="394.64" width="11.81" height="9.38" fill="#d7ef9b"/>
<rect x="427.05" y="394.64" width="11.81" height="9.38" fill="#f5fbaf"/>
<rect x="438.71" y="394.64" width="11.81" height="9.38" fill="#ffffbf"/>
<rect x="450.37" y="394.64" width="11.81" height="9.38" fill="#eaf79e"/>
<rect x="462.03" y="394.64" width="11.81" height="9.38" fill="#eaf79e"/>
<rect x="473.69" y="394.64" width="11.81" height="9.38" fill="#fed480"/>
<rect x="485.34" y="394.64" width="11.81" height="9.38" fill="#ffffbf"/>
<rect x="497" y="394.64" width="11.81" height="9.38" fill="#fed480"/>
<rect x="508.66" y="394.64" width="11.81" height="9.38" fill="#fff2a9"/>
<rect x="520.32" y="394.64" width="11.81" height="9.38" fill="#f5fbaf"/>
<rect x="531.98" y="394.64" width="11.81" height="9.38" fill="#d7ef9b"/>
<rect x="543.63" y="394.64" width="11.81" height="9.38" fill="#eaf79e"/>
<rect x="555.29" y="394.64" width="11.81" height="9.38" fill="#f5fbaf"/>
<rect x="566.95" y="394.64" width="11.81" height="9.38" fill="#ffffbf"/>
<rect x="578.61" y="394.64" width="11.81" height="9.38" fill="#fed480"/>
<rect x="590.27" y="394.64" width="11.81" height="9.38" fill="#eaf79e"/>
<rect x="601.93" y="394.64" width="11.81" height="9.38" fill="#eaf79e"/>
<rect x="613.58" y="394.64" width="11.81" height="9.38" fill="#d7ef9b"/>
<rect x="625.24" y="394.64" width="11.66" height="9.38" fill="#f5fbaf"/>
<rect x="135.6" y="403.58" width="11.81" height="9.38" fill="#eaf79e"/>
<rect x="147.26" y="403.58" width="11.81" height="9.38" fill="#f5fbaf"/>
<rect x="158.92" y="403.58" width="11.81" height="9.38" fill="#cc344d"/>
<rect x="170.57" y="403.58" width="11.81" height="9.38" fill="#fed480"/>
<rect x="182.23" y="403.58" width="11.81" height="9.38" fill="#fdbf6f"/>
<rect x="193.89" y="403.58" width="11.81" height="9.38" fill="#fff2a9"/>
<rect x="205.55" y="403.58" width="11.81" height="9.38" fill="#d7ef9b"/>
<rect x="217.21" y="403.58" width="11.81" height="9.38" fill="#fed480"/>
<rect x="228.87" y="403.58" width="11.81" height="9.38" fill="#fed480"/>
<rect x="240.52" y="403.58" width="11.81" height="9.38" fill="#fee594"/>
<rect x="252.18" y="403.58" width="11.81" height="9.38" fill="#fed480"/>
<rect x="263.84" y="403.58" width="11.81" height="9.38" fill="#fed480"/>
<rect x="275.5" y="403.58" width="11.81" height="9.38" fill="#ffffbf"/>
<rect x="287.16" y="403.58" width="11.81" height="9.38" fill="#fdbf6f"/>
<rect x="298.81" y="403.58" width="11.81" height="9.38" fill="#eaf79e"/>
<rect x="310.47" y="403.58" width="11.81" height="9.38" fill="#f88e52"/>
<rect x="322.13" y="403.58" width="11.81" height="9.38" fill="#f5fbaf"/>
<rect x="333.79" y="403.58" width="11.81" height="9.38" fill="#eaf79e"/>
<rect x="345.45" y="403.58" width="11.81" height="9.38" fill="#eaf79e"/>
<rect x="357.1" y="403.58" width="11.81" height="9.38" fill="#fff2a9"/>
<rect x="368.76" y="403.58" width="11.81" height="9.38" fill="#eaf79e"/>
<rect x="380.42" y="403.58" width="11.81" height="9.38" fill="#fdbf6f"/>
<rect x="392.08" y="403.58" width="11.81" height="9.38" fill="#f5fbaf"/>
<rect x="403.74" y="403.58" width="11.81" height="9.38" fill="#f5fbaf"/>
<rect x="415.4" y="403.58" width="11.81" height="9.38" fill="#ffffbf"/>
<rect x="427.05" y="403.58" width="11.81" height="9.38" fill="#ffffbf"/>
<rect x="438.71" y="403.58" width="11.81" height="9.38" fill="#eaf79e"/>
<rect x="450.37" y="403.58" width="11.81" height="9.38" fill="#f5fbaf"/>
<rect x="462.03" y="403.58" width="11.81" height="9.38" fill="#eaf79e"/>
<rect x="473.69" y="403.58" width="11.81" height="9.38" fill="#eaf79e"/>
<rect x="485.34" y="403.58" width="11.81" height="9.38" fill="#fff2a9"/>
<rect x="497" y="403.58" width="11.81" height="9.38" fill="#fff2a9"/>
<rect x="508.66" y="403.58" width="11.81" height="9.38" fill="#ffffbf"/>
<rect x="520.32" y="403.58" width="11.81" height="9.38" fill="#f5fbaf"/>
<rect x="531.98" y="403.58" width="11.81" height="9.38" fill="#d7ef9b"/>
<rect x="543.63" y="403.58" width="11.81" height="9.38" fill="#eaf79e"/>
<rect x="555.29" y="403.58" width="11.81" height="9.38" fill="#fed480"/>
<rect x="566.95" y="403.58" width="11.81" height="9.38" fill="#f5fbaf"/>
<rect x="578.61" y="403.58" width="11.81" height="9.38" fill="#f5fbaf"/>
<rect x="590.27" y="403.58" width="11.81" height="9.38" fill="#d7ef9b"/>
<rect x="601.93" y="403.58" width="11.81" height="9.38" fill="#f5fbaf"/>
<rect x="613.58" y="403.58" width="11.81" height="9.38" fill="#eaf79e"/>
<rect x="625.24" y="403.58" width="11.66" height="9.38" fill="#eaf79e"/>
<rect x="135.6" y="412.51" width="11.81" height="9.38" fill="#fca95f"/>
<rect x="147.26" y="412.51" width="11.81" height="9.38" fill="#fff2a9"/>
<rect x="158.92" y="412.51" width="11.81" height="9.38" fill="#ffffbf"/>
<rect x="170.57" y="412.51" width="11.81" height="9.38" fill="#f5fbaf"/>
<rect x="182.23" y="412.51" width="11.81" height="9.38" fill="#fed480"/>
<rect x="193.89" y="412.51" width="11.81" height="9.38" fill="#fee594"/>
<rect x="205.55" y="412.51" width="11.81" height="9.38" fill="#fdbf6f"/>
<rect x="217.21" y="412.51" width="11.81" height="9.38" fill="#f5fbaf"/>
<rect x="228.87" y="412.51" width="11.81" height="9.38" fill="#fff2a9"/>
<rect x="240.52" y="412.51" width="11.81" height="9.38" fill="#fff2a9"/>
<rect x="252.18" y="412.51" width="11.81" height="9.38" fill="#dd4a4c"/>
<rect x="263.84" y="412.51" width="11.81" height="9.38" fill="#fed480"/>
<rect x="275.5" y="412.51" width="11.81" height="9.38" fill="#eaf79e"/>
<rect x="287.16" y="412.51" width="11.81" height="9.38" fill="#fff2a9"/>
<rect x="298.81" y="412.51" width="11.81" height="9.38" fill="#bfe5a0"/>
<rect x="310.47" y="412.51" width="11.81" height="9.38" fill="#fff2a9"/>
<rect x="322.13" y="412.51" width="11.81" height="9.38" fill="#eaf79e"/>
<rect x="333.79" y="412.51" width="11.81" height="9.38" fill="#d7ef9b"/>
<rect x="345.45" y="412.51" width="11.81" height="9.38" fill="#ffffbf"/>
<rect x="357.1" y="412.51" width="11.81" height="9.38" fill="#fff2a9"/>
<rect x="368.76" y="412.51" width="11.81" height="9.38" fill="#eaf79e"/>
<rect x="380.42" y="412.51" width="11.81" height="9.38" fill="#eaf79e"/>
<rect x="392.08" y="412.51" width="11.81" height="9.38" fill="#fff2a9"/>
<rect x="403.74" y="412.51" width="11.81" height="9.38" fill="#fff2a9"/>
<rect x="415.4" y="412.51" width="11.81" height="9.38" fill="#f5fbaf"/>
<rect x="427.05" y="412.51" width="11.81" height="9.38" fill="#f5fbaf"/>
<rect x="438.71" y="412.51" width="11.81" height="9.38" fill="#f5fbaf"/>
<rect x="450.37" y="412.51" width="11.81" height="9.38" fill="#ffffbf"/>
<rect x="462.03" y="412.51" width="11.81" height="9.38" fill="#d7ef9b"/>
<rect x="473.69" y="412.51" width="11.81" height="9.38" fill="#f5fbaf"/>
<rect x="485.34" y="412.51" width="11.81" height="9.38" fill="#fdbf6f"/>
<rect x="497" y="412.51" width="11.81" height="9.38" fill="#f5fbaf"/>
<rect x="508.66" y="412.51" width="11.81" height="9.38" fill="#ffffbf"/>
<rect x="520.32" y="412.51" width="11.81" height="9.38" fill="#f5fbaf"/>
<rect x="531.98" y="412.51" width="11.81" height="9.38" fill="#d7ef9b"/>
<rect x="543.63" y="412.51" width="11.81" height="9.38" fill="#ffffbf"/>
<rect x="555.29" y="412.51" width="11.81" height="9.38" fill="#d7ef9b"/>
<rect x="566.95" y="412.51" width="11.81" height="9.38" fill="#f5fbaf"/>
<rect x="578.61" y="412.51" width="11.81" height="9.38" fill="#ffffbf"/>
<rect x="590.27" y="412.51" width="11.81" height="9.38" fill="#d7ef9b"/>
<rect x="601.93" y="412.51" width="11.81" height="9.38" fill="#fff2a9"/>
<rect x="613.58" y="412.51" width="11.81" height="9.38" fill="#eaf79e"/>
<rect x="625.24" y="412.51" width="11.66" height="9.38" fill="#fff2a9"/>
<rect x="135.6" y="421.45" width="11.81" height="9.38" fill="#ffffbf"/>
<rect x="147.26" y="421.45" width="11.81" height="9.38" fill="#fdbf6f"/>
<rect x="158.92" y="421.45" width="11.81" height="9.38" fill="#fca95f"/>
<rect x="170.57" y="421.45" width="11.81" height="9.38" fill="#ffffbf"/>
<rect x="182.23" y="421.45" width="11.81" height="9.38" fill="#fdbf6f"/>
<rect x="193.89" y="421.45" width="11.81" height="9.38" fill="#ffffbf"/>
<rect x="205.55" y="421.45" width="11.81" height="9.38" fill="#ffffbf"/>
<rect x="217.21" y="421.45" width="11.81" height="9.38" fill="#ffffbf"/>
<rect x="228.87" y="421.45" width="11.81" height="9.38" fill="#fee594"/>
<rect x="240.52" y="421.45" width="11.81" height="9.38" fill="#fff2a9"/>
<rect x="252.18" y="421.45" width="11.81" height="9.38" fill="#fca95f"/>
<rect x="263.84" y="421.45" width="11.81" height="9.38" fill="#fed480"/>
<rect x="275.5" y="421.45" width="11.81" height="9.38" fill="#ffffbf"/>
<rect x="287.16" y="421.45" width="11.81" height="9.38" fill="#ffffbf"/>
<rect x="298.81" y="421.45" width="11.81" height="9.38" fill="#eaf79e"/>
<rect x="310.47" y="421.45" width="11.81" height="9.38" fill="#f5fbaf"/>
<rect x="322.13" y="421.45" width="11.81" height="9.38" fill="#fee594"/>
<rect x="333.79" y="421.45" width="11.81" height="9.38" fill="#eaf79e"/>
<rect x="345.45" y="421.45" width="11.81" height="9.38" fill="#d7ef9b"/>
<rect x="357.1" y="421.45" width="11.81" height="9.38" fill="#fdbf6f"/>
<rect x="368.76" y="421.45" width="11.81" height="9.38" fill="#ffffbf"/>
<rect x="380.42" y="421.45" width="11.81" height="9.38" fill="#eaf79e"/>
<rect x="392.08" y="421.45" width="11.81" height="9.38" fill="#fca95f"/>
<rect x="403.74" y="421.45" width="11.81" height="9.38" fill="#eaf79e"/>
<rect x="415.4" y="421.45" width="11.81" height="9.38" fill="#d7ef9b"/>
<rect x="427.05" y="421.45" width="11.81" height="9.38" fill="#eaf79e"/>
<rect x="438.71" y="421.45" width="11.81" height="9.38" fill="#eaf79e"/>
<rect x="450.37" y="421.45" width="11.81" height="9.38" fill="#f5fbaf"/>
<rect x="462.03" y="421.45" width="11.81" height="9.38" fill="#eaf79e"/>
<rect x="473.69" y="421.45" width="11.81" height="9.38" fill="#fed480"/>
<rect x="485.34" y="421.45" width="11.81" height="9.38" fill="#ffffbf"/>
<rect x="497" y="421.45" width="11.81" height="9.38" fill="#f5fbaf"/>
<rect x="508.66" y="421.45" width="11.81" height="9.38" fill="#f5fbaf"/>
<rect x="520.32" y="421.45" width="11.81" height="9.38" fill="#d7ef9b"/>
<rect x="531.98" y="421.45" width="11.81" height="9.38" fill="#d7ef9b"/>
<rect x="543.63" y="421.45" width="11.81" height="9.38" fill="#fff2a9"/>
<rect x="555.29" y="421.45" width="11.81" height="9.38" fill="#fff2a9"/>
<rect x="566.95" y="421.45" width="11.81" height="9.38" fill="#f5fbaf"/>
<rect x="578.61" y="421.45" width="11.81" height="9.38" fill="#d7ef9b"/>
<rect x="590.27" y="421.45" width="11.81" height="9.38" fill="#eaf79e"/>
<rect x="601.93" y="421.45" width="11.81" height="9.38" fill="#f5fbaf"/>
<rect x="613.58" y="421.45" width="11.81" height="9.38" fill="#bfe5a0"/>
<rect x="625.24" y="421.45" width="11.66" height="9.38" fill="#fed480"/>
<rect x="135.6" y="430.38" width="11.81" height="9.38" fill="#ea5d47"/>
<rect x="147.26" y="430.38" width="11.81" height="9.38" fill="#ea5d47"/>
<rect x="158.92" y="430.38" width="11.81" height="9.38" fill="#eaf79e"/>
<rect x="170.57" y="430.38" width="11.81" height="9.38" fill="#eaf79e"/>
<rect x="182.23" y="430.38" width="11.81" height="9.38" fill="#f5fbaf"/>
<rect x="193.89" y="430.38" width="11.81" height="9.38" fill="#fca95f"/>
<rect x="205.55" y="430.38" width="11.81" height="9.38" fill="#fca95f"/>
<rect x="217.21" y="430.38" width="11.81" height="9.38" fill="#fff2a9"/>
<rect x="228.87" y="430.38" width="11.81" height="9.38" fill="#f5fbaf"/>
<rect x="240.52" y="430.38" width="11.81" height="9.38" fill="#f5fbaf"/>
<rect x="252.18" y="430.38" width="11.81" height="9.38" fill="#f5fbaf"/>
<rect x="263.84" y="430.38" width="11.81" height="9.38" fill="#fed480"/>
<rect x="275.5" y="430.38" width="11.81" height="9.38" fill="#d7ef9b"/>
<rect x="287.16" y="430.38" width="11.81" height="9.38" fill="#ffffbf"/>
<rect x="298.81" y="430.38" width="11.81" height="9.38" fill="#eaf79e"/>
<rect x="310.47" y="430.38" width="11.81" height="9.38" fill="#f5fbaf"/>
<rect x="322.13" y="430.38" width="11.81" height="9.38" fill="#ffffbf"/>
<rect x="333.79" y="430.38" width="11.81" height="9.38" fill="#ffffbf"/>
<rect x="345.45" y="430.38" width="11.81" height="9.38" fill="#eaf79e"/>
<rect x="357.1" y="430.38" width="11.81" height="9.38" fill="#fff2a9"/>
<rect x="368.76" y="430.38" width="11.81" height="9.38" fill="#ffffbf"/>
<rect x="380.42" y="430.38" width="11.81" height="9.38" fill="#f5fbaf"/>
<rect x="392.08" y="430.38" width="11.81" height="9.38" fill="#fdbf6f"/>
<rect x="403.74" y="430.38" width="11.81" height="9.38" fill="#ffffbf"/>
<rect x="415.4" y="430.38" width="11.81" height="9.38" fill="#eaf79e"/>
<rect x="427.05" y="430.38" width="11.81" height="9.38" fill="#ffffbf"/>
<rect x="438.71" y="430.38" width="11.81" height="9.38" fill="#f5fbaf"/>
<rect x="450.37" y="430.38" width="11.81" height="9.38" fill="#fed480"/>
<rect x="462.03" y="430.38" width="11.81" height="9.38" fill="#eaf79e"/>
<rect x="473.69" y="430.38" width="11.81" height="9.38" fill="#ffffbf"/>
<rect x="485.34" y="430.38" width="11.81" height="9.38" fill="#f5fbaf"/>
<rect x="497" y="430.38" width="11.81" height="9.38" fill="#eaf79e"/>
<rect x="508.66" y="430.38" width="11.81" height="9.38" fill="#f5fbaf"/>
<rect x="520.32" y="430.38" width="11.81" height="9.38" fill="#eaf79e"/>
<rect x="531.98" y="430.38" width="11.81" height="9.38" fill="#f5fbaf"/>
<rect x="543.63" y="430.38" width="11.81" height="9.38" fill="#f5fbaf"/>
<rect x="555.29" y="430.38" width="11.81" height="9.38" fill="#eaf79e"/>
<rect x="566.95" y="430.38" width="11.81" height="9.38" fill="#f5fbaf"/>
<rect x="578.61" y="430.38" width="11.81" height="9.38" fill="#eaf79e"/>
<rect x="590.27" y="430.38" width="11.81" height="9.38" fill="#eaf79e"/>
<rect x="601.93" y="430.38" width="11.81" height="9.38" fill="#ffffbf"/>
<rect x="613.58" y="430.38" width="11.81" height="9.38" fill="#ffffbf"/>
<rect x="625.24" y="430.38" width="11.66" height="9.38" fill="#fee594"/>
<rect x="135.6" y="439.32" width="11.81" height="9.38" fill="#eaf79e"/>
<rect x="147.26" y="439.32" width="11.81" height="9.38" fill="#fff2a9"/>
<rect x="158.92" y="439.32" width="11.81" height="9.38" fill="#ffffbf"/>
<rect x="170.57" y="439.32" width="11.81" height="9.38" fill="#b51a47"/>
<rect x="182.23" y="439.32" width="11.81" height="9.38" fill="#f88e52"/>
<rect x="193.89" y="439.32" width="11.81" height="9.38" fill="#fee594"/>
<rect x="205.55" y="439.32" width="11.81" height="9.38" fill="#f5fbaf"/>
<rect x="217.21" y="439.32" width="11.81" height="9.38" fill="#fdbf6f"/>
<rect x="228.87" y="439.32" width="11.81" height="9.38" fill="#fee594"/>
<rect x="240.52" y="439.32" width="11.81" height="9.38" fill="#eaf79e"/>
<rect x="252.18" y="439.32" width="11.81" height="9.38" fill="#eaf79e"/>
<rect x="263.84" y="439.32" width="11.81" height="9.38" fill="#eaf79e"/>
<rect x="275.5" y="439.32" width="11.81" height="9.38" fill="#ffffbf"/>
<rect x="287.16" y="439.32" width="11.81" height="9.38" fill="#ffffbf"/>
<rect x="298.81" y="439.32" width="11.81" height="9.38" fill="#fff2a9"/>
<rect x="310.47" y="439.32" width="11.81" height="9.38" fill="#eaf79e"/>
<rect x="322.13" y="439.32" width="11.81" height="9.38" fill="#fff2a9"/>
<rect x="333.79" y="439.32" width="11.81" height="9.38" fill="#fee594"/>
<rect x="345.45" y="439.32" width="11.81" height="9.38" fill="#eaf79e"/>
<rect x="357.1" y="439.32" width="11.81" height="9.38" fill="#fff2a9"/>
<rect x="368.76" y="439.32" width="11.81" height="9.38" fill="#f5fbaf"/>
<rect x="380.42" y="439.32" width="11.81" height="9.38" fill="#f5fbaf"/>
<rect x="392.08" y="439.32" width="11.81" height="9.38" fill="#fed480"/>
<rect x="403.74" y="439.32" width="11.81" height="9.38" fill="#f5fbaf"/>
<rect x="415.4" y="439.32" width="11.81" height="9.38" fill="#f5fbaf"/>
<rect x="427.05" y="439.32" width="11.81" height="9.38" fill="#ffffbf"/>
<rect x="438.71" y="439.32" width="11.81" height="9.38" fill="#f5fbaf"/>
<rect x="450.37" y="439.32" width="11.81" height="9.38" fill="#f5fbaf"/>
<rect x="462.03" y="439.32" width="11.81" height="9.38" fill="#f5fbaf"/>
<rect x="473.69" y="439.32" width="11.81" height="9.38" fill="#fff2a9"/>
<rect x="485.34" y="439.32" width="11.81" height="9.38" fill="#f5fbaf"/>
<rect x="497" y="439.32" width="11.81" height="9.38" fill="#eaf79e"/>
<rect x="508.66" y="439.32" width="11.81" height="9.38" fill="#f5fbaf"/>
<rect x="520.32" y="439.32" width="11.81" height="9.38" fill="#f5fbaf"/>
<rect x="531.98" y="439.32" width="11.81" height="9.38" fill="#eaf79e"/>
<rect x="543.63" y="439.32" width="11.81" height="9.38" fill="#fff2a9"/>
<rect x="555.29" y="439.32" width="11.81" height="9.38" fill="#fff2a9"/>
<rect x="566.95" y="439.32" width="11.81" height="9.38" fill="#ffffbf"/>
<rect x="578.61" y="439.32" width="11.81" height="9.38" fill="#eaf79e"/>
<rect x="590.27" y="439.32" width="11.81" height="9.38" fill="#ffffbf"/>
<rect x="601.93" y="439.32" width="11.81" height="9.38" fill="#f5fbaf"/>
<rect x="613.58" y="439.32" width="11.81" height="9.38" fill="#eaf79e"/>
<rect x="625.24" y="439.32" width="11.66" height="9.38" fill="#fff2a9"/>
<rect x="135.6" y="448.25" width="11.81" height="9.38" fill="#fca95f"/>
<rect x="147.26" y="448.25" width="11.81" height="9.38" fill="#fdbf6f"/>
<rect x="158.92" y="448.25" width="11.81" height="9.38" fill="#ffffbf"/>
<rect x="170.57" y="448.25" width="11.81" height="9.38" fill="#ffffbf"/>
<rect x="182.23" y="448.25" width="11.81" height="9.38" fill="#f88e52"/>
<rect x="193.89" y="448.25" width="11.81" height="9.38" fill="#fee594"/>
<rect x="205.55" y="448.25" width="11.81" height="9.38" fill="#f5fbaf"/>
<rect x="217.21" y="448.25" width="11.81" height="9.38" fill="#ea5d47"/>
<rect x="228.87" y="448.25" width="11.81" height="9.38" fill="#ffffbf"/>
<rect x="240.52" y="448.25" width="11.81" height="9.38" fill="#eaf79e"/>
<rect x="252.18" y="448.25" width="11.81" height="9.38" fill="#d7ef9b"/>
<rect x="263.84" y="448.25" width="11.81" height="9.38" fill="#ffffbf"/>
<rect x="275.5" y="448.25" width="11.81" height="9.38" fill="#ffffbf"/>
<rect x="287.16" y="448.25" width="11.81" height="9.38" fill="#ffffbf"/>
<rect x="298.81" y="448.25" width="11.81" height="9.38" fill="#fff2a9"/>
<rect x="310.47" y="448.25" width="11.81" height="9.38" fill="#eaf79e"/>
<rect x="322.13" y="448.25" width="11.81" height="9.38" fill="#ffffbf"/>
<rect x="333.79" y="448.25" width="11.81" height="9.38" fill="#eaf79e"/>
<rect x="345.45" y="448.25" width="11.81" height="9.38" fill="#d7ef9b"/>
<rect x="357.1" y="448.25" width="11.81" height="9.38" fill="#ffffbf"/>
<rect x="368.76" y="448.25" width="11.81" height="9.38" fill="#f88e52"/>
<rect x="380.42" y="448.25" width="11.81" height="9.38" fill="#f5fbaf"/>
<rect x="392.08" y="448.25" width="11.81" height="9.38" fill="#fee594"/>
<rect x="403.74" y="448.25" width="11.81" height="9.38" fill="#eaf79e"/>
<rect x="415.4" y="448.25" width="11.81" height="9.38" fill="#eaf79e"/>
<rect x="427.05" y="448.25" width="11.81" height="9.38" fill="#f5fbaf"/>
<rect x="438.71" y="448.25" width="11.81" height="9.38" fill="#f5fbaf"/>
<rect x="450.37" y="448.25" width="11.81" height="9.38" fill="#f5fbaf"/>
<rect x="462.03" y="448.25" width="11.81" height="9.38" fill="#eaf79e"/>
<rect x="473.69" y="448.25" width="11.81" height="9.38" fill="#fff2a9"/>
<rect x="485.34" y="448.25" width="11.81" height="9.38" fill="#eaf79e"/>
<rect x="497" y="448.25" width="11.81" height="9.38" fill="#ffffbf"/>
<rect x="508.66" y="448.25" width="11.81" height="9.38" fill="#fff2a9"/>
<rect x="520.32" y="448.25" width="11.81" height="9.38" fill="#eaf79e"/>
<rect x="531.98" y="448.25" width="11.81" height="9.38" fill="#d7ef9b"/>
<rect x="543.63" y="448.25" width="11.81" height="9.38" fill="#ffffbf"/>
<rect x="555.29" y="448.25" width="11.81" height="9.38" fill="#fff2a9"/>
<rect x="566.95" y="448.25" width="11.81" height="9.38" fill="#ffffbf"/>
<rect x="578.61" y="448.25" width="11.81" height="9.38" fill="#f5fbaf"/>
<rect x="590.27" y="448.25" width="11.81" height="9.38" fill="#eaf79e"/>
<rect x="601.93" y="448.25" width="11.81" height="9.38" fill="#f5fbaf"/>
<rect x="613.58" y="448.25" width="11.81" height="9.38" fill="#eaf79e"/>
<rect x="625.24" y="448.25" width="11.66" height="9.38" fill="#ffffbf"/>
<rect x="135.6" y="457.19" width="11.81" height="9.38" fill="#fee594"/>
<rect x="147.26" y="457.19" width="11.81" height="9.38" fill="#fdbf6f"/>
<rect x="158.92" y="457.19" width="11.81" height="9.38" fill="#fed480"/>
<rect x="170.57" y="457.19" width="11.81" height="9.38" fill="#f57246"/>
<rect x="182.23" y="457.19" width="11.81" height="9.38" fill="#ffffbf"/>
<rect x="193.89" y="457.19" width="11.81" height="9.38" fill="#fff2a9"/>
<rect x="205.55" y="457.19" width="11.81" height="9.38" fill="#dd4a4c"/>
<rect x="217.21" y="457.19" width="11.81" height="9.38" fill="#eaf79e"/>
<rect x="228.87" y="457.19" width="11.81" height="9.38" fill="#fdbf6f"/>
<rect x="240.52" y="457.19" width="11.81" height="9.38" fill="#ffffbf"/>
<rect x="252.18" y="457.19" width="11.81" height="9.38" fill="#fff2a9"/>
<rect x="263.84" y="457.19" width="11.81" height="9.38" fill="#fed480"/>
<rect x="275.5" y="457.19" width="11.81" height="9.38" fill="#f5fbaf"/>
<rect x="287.16" y="457.19" width="11.81" height="9.38" fill="#fff2a9"/>
<rect x="298.81" y="457.19" width="11.81" height="9.38" fill="#d7ef9b"/>
<rect x="310.47" y="457.19" width="11.81" height="9.38" fill="#f5fbaf"/>
<rect x="322.13" y="457.19" width="11.81" height="9.38" fill="#f5fbaf"/>
<rect x="333.79" y="457.19" width="11.81" height="9.38" fill="#eaf79e"/>
<rect x="345.45" y="457.19" width="11.81" height="9.38" fill="#eaf79e"/>
<rect x="357.1" y="457.19" width="11.81" height="9.38" fill="#fdbf6f"/>
<rect x="368.76" y="457.19" width="11.81" height="9.38" fill="#eaf79e"/>
<rect x="380.42" y="457.19" width="11.81" height="9.38" fill="#f5fbaf"/>
<rect x="392.08" y="457.19" width="11.81" height="9.38" fill="#fee594"/>
<rect x="403.74" y="457.19" width="11.81" height="9.38" fill="#f5fbaf"/>
<rect x="415.4" y="457.19" width="11.81" height="9.38" fill="#f5fbaf"/>
<rect x="427.05" y="457.19" width="11.81" height="9.38" fill="#ffffbf"/>
<rect x="438.71" y="457.19" width="11.81" height="9.38" fill="#ffffbf"/>
<rect x="450.37" y="457.19" width="11.81" height="9.38" fill="#ffffbf"/>
<rect x="462.03" y="457.19" width="11.81" height="9.38" fill="#f5fbaf"/>
<rect x="473.69" y="457.19" width="11.81" height="9.38" fill="#eaf79e"/>
<rect x="485.34" y="457.19" width="11.81" height="9.38" fill="#ffffbf"/>
<rect x="497" y="457.19" width="11.81" height="9.38" fill="#f5fbaf"/>
<rect x="508.66" y="457.19" width="11.81" height="9.38" fill="#eaf79e"/>
<rect x="520.32" y="457.19" width="11.81" height="9.38" fill="#f5fbaf"/>
<rect x="531.98" y="457.19" width="11.81" height="9.38" fill="#eaf79e"/>
<rect x="543.63" y="457.19" width="11.81" height="9.38" fill="#f5fbaf"/>
<rect x="555.29" y="457.19" width="11.81" height="9.38" fill="#f5fbaf"/>
<rect x="566.95" y="457.19" width="11.81" height="9.38" fill="#f5fbaf"/>
<rect x="578.61" y="457.19" width="11.81" height="9.38" fill="#f5fbaf"/>
<rect x="590.27" y="457.19" width="11.81" height="9.38" fill="#ffffbf"/>
<rect x="601.93" y="457.19" width="11.81" height="9.38" fill="#f5fbaf"/>
<rect x="613.58" y="457.19" width="11.81" height="9.38" fill="#eaf79e"/>
<rect x="625.24" y="457.19" width="11.66" height="9.38" fill="#f5fbaf"/>
<rect x="135.6" y="466.12" width="11.81" height="9.38" fill="#ffffbf"/>
<rect x="147.26" y="466.12" width="11.81" height="9.38" fill="#fff2a9"/>
<rect x="158.92" y="466.12" width="11.81" height="9.38" fill="#ffffbf"/>
<rect x="170.57" y="466.12" width="11.81" height="9.38" fill="#fee594"/>
<rect x="182.23" y="466.12" width="11.81" height="9.38" fill="#9e0142"/>
<rect x="193.89" y="466.12" width="11.81" height="9.38" fill="#f5fbaf"/>
<rect x="205.55" y="466.12" width="11.81" height="9.38" fill="#f5fbaf"/>
<rect x="217.21" y="466.12" width="11.81" height="9.38" fill="#fff2a9"/>
<rect x="228.87" y="466.12" width="11.81" height="9.38" fill="#f5fbaf"/>
<rect x="240.52" y="466.12" width="11.81" height="9.38" fill="#f5fbaf"/>
<rect x="252.18" y="466.12" width="11.81" height="9.38" fill="#f5fbaf"/>
<rect x="263.84" y="466.12" width="11.81" height="9.38" fill="#eaf79e"/>
<rect x="275.5" y="466.12" width="11.81" height="9.38" fill="#ffffbf"/>
<rect x="287.16" y="466.12" width="11.81" height="9.38" fill="#f5fbaf"/>
<rect x="298.81" y="466.12" width="11.81" height="9.38" fill="#ffffbf"/>
<rect x="310.47" y="466.12" width="11.81" height="9.38" fill="#f5fbaf"/>
<rect x="322.13" y="466.12" width="11.81" height="9.38" fill="#fed480"/>
<rect x="333.79" y="466.12" width="11.81" height="9.38" fill="#f88e52"/>
<rect x="345.45" y="466.12" width="11.81" height="9.38" fill="#f5fbaf"/>
<rect x="357.1" y="466.12" width="11.81" height="9.38" fill="#f5fbaf"/>
<rect x="368.76" y="466.12" width="11.81" height="9.38" fill="#fff2a9"/>
<rect x="380.42" y="466.12" width="11.81" height="9.38" fill="#eaf79e"/>
<rect x="392.08" y="466.12" width="11.81" height="9.38" fill="#fee594"/>
<rect x="403.74" y="466.12" width="11.81" height="9.38" fill="#f5fbaf"/>
<rect x="415.4" y="466.12" width="11.81" height="9.38" fill="#fff2a9"/>
<rect x="427.05" y="466.12" width="11.81" height="9.38" fill="#f5fbaf"/>
<rect x="438.71" y="466.12" width="11.81" height="9.38" fill="#ffffbf"/>
<rect x="450.37" y="466.12" width="11.81" height="9.38" fill="#fed480"/>
<rect x="462.03" y="466.12" width="11.81" height="9.38" fill="#f5fbaf"/>
<rect x="473.69" y="466.12" width="11.81" height="9.38" fill="#f5fbaf"/>
<rect x="485.34" y="466.12" width="11.81" height="9.38" fill="#f5fbaf"/>
<rect x="497" y="466.12" width="11.81" height="9.38" fill="#f5fbaf"/>
<rect x="508.66" y="466.12" width="11.81" height="9.38" fill="#f5fbaf"/>
<rect x="520.32" y="466.12" width="11.81" height="9.38" fill="#fff2a9"/>
<rect x="531.98" y="466.12" width="11.81" height="9.38" fill="#f5fbaf"/>
<rect x="543.63" y="466.12" width="11.81" height="9.38" fill="#f5fbaf"/>
<rect x="555.29" y="466.12" width="11.81" height="9.38" fill="#f5fbaf"/>
<rect x="566.95" y="466.12" width="11.81" height="9.38" fill="#f5fbaf"/>
<rect x="578.61" y="466.12" width="11.81" height="9.38" fill="#f5fbaf"/>
<rect x="590.27" y="466.12" width="11.81" height="9.38" fill="#f5fbaf"/>
<rect x="601.93" y="466.12" width="11.81" height="9.38" fill="#f5fbaf"/>
<rect x="613.58" y="466.12" width="11.81" height="9.38" fill="#f5fbaf"/>
<rect x="625.24" y="466.12" width="11.66" height="9.38" fill="#f5fbaf"/>
<rect x="135.6" y="475.06" width="11.81" height="9.38" fill="#ffffbf"/>
<rect x="147.26" y="475.06" width="11.81" height="9.38" fill="#fca95f"/>
<rect x="158.92" y="475.06" width="11.81" height="9.38" fill="#fca95f"/>
<rect x="170.57" y="475.06" width="11.81" height="9.38" fill="#f5fbaf"/>
<rect x="182.23" y="475.06" width="11.81" height="9.38" fill="#ffffbf"/>
<rect x="193.89" y="475.06" width="11.81" height="9.38" fill="#f88e52"/>
<rect x="205.55" y="475.06" width="11.81" height="9.38" fill="#fff2a9"/>
<rect x="217.21" y="475.06" width="11.81" height="9.38" fill="#fee594"/>
<rect x="228.87" y="475.06" width="11.81" height="9.38" fill="#fee594"/>
<rect x="240.52" y="475.06" width="11.81" height="9.38" fill="#fff2a9"/>
<rect x="252.18" y="475.06" width="11.81" height="9.38" fill="#ffffbf"/>
<rect x="263.84" y="475.06" width="11.81" height="9.38" fill="#fdbf6f"/>
<rect x="275.5" y="475.06" width="11.81" height="9.38" fill="#d7ef9b"/>
<rect x="287.16" y="475.06" width="11.81" height="9.38" fill="#fee594"/>
<rect x="298.81" y="475.06" width="11.81" height="9.38" fill="#ffffbf"/>
<rect x="310.47" y="475.06" width="11.81" height="9.38" fill="#ffffbf"/>
<rect x="322.13" y="475.06" width="11.81" height="9.38" fill="#fed480"/>
<rect x="333.79" y="475.06" width="11.81" height="9.38" fill="#ffffbf"/>
<rect x="345.45" y="475.06" width="11.81" height="9.38" fill="#eaf79e"/>
<rect x="357.1" y="475.06" width="11.81" height="9.38" fill="#ffffbf"/>
<rect x="368.76" y="475.06" width="11.81" height="9.38" fill="#ffffbf"/>
<rect x="380.42" y="475.06" width="11.81" height="9.38" fill="#eaf79e"/>
<rect x="392.08" y="475.06" width="11.81" height="9.38" fill="#f88e52"/>
<rect x="403.74" y="475.06" width="11.81" height="9.38" fill="#eaf79e"/>
<rect x="415.4" y="475.06" width="11.81" height="9.38" fill="#f5fbaf"/>
<rect x="427.05" y="475.06" width="11.81" height="9.38" fill="#eaf79e"/>
<rect x="438.71" y="475.06" width="11.81" height="9.38" fill="#f5fbaf"/>
<rect x="450.37" y="475.06" width="11.81" height="9.38" fill="#ffffbf"/>
<rect x="462.03" y="475.06" width="11.81" height="9.38" fill="#eaf79e"/>
<rect x="473.69" y="475.06" width="11.81" height="9.38" fill="#fed480"/>
<rect x="485.34" y="475.06" width="11.81" height="9.38" fill="#ffffbf"/>
<rect x="497" y="475.06" width="11.81" height="9.38" fill="#eaf79e"/>
<rect x="508.66" y="475.06" width="11.81" height="9.38" fill="#eaf79e"/>
<rect x="520.32" y="475.06" width="11.81" height="9.38" fill="#eaf79e"/>
<rect x="531.98" y="475.06" width="11.81" height="9.38" fill="#bfe5a0"/>
<rect x="543.63" y="475.06" width="11.81" height="9.38" fill="#fff2a9"/>
<rect x="555.29" y="475.06" width="11.81" height="9.38" fill="#fff2a9"/>
<rect x="566.95" y="475.06" width="11.81" height="9.38" fill="#f5fbaf"/>
<rect x="578.61" y="475.06" width="11.81" height="9.38" fill="#d7ef9b"/>
<rect x="590.27" y="475.06" width="11.81" height="9.38" fill="#eaf79e"/>
<rect x="601.93" y="475.06" width="11.81" height="9.38" fill="#d7ef9b"/>
<rect x="613.58" y="475.06" width="11.81" height="9.38" fill="#d7ef9b"/>
<rect x="625.24" y="475.06" width="11.66" height="9.38" fill="#f5fbaf"/>
<rect x="135.6" y="484" width="11.81" height="9.38" fill="#f57246"/>
<rect x="147.26" y="484" width="11.81" height="9.38" fill="#fee594"/>
<rect x="158.92" y="484" width="11.81" height="9.38" fill="#ffffbf"/>
<rect x="170.57" y="484" width="11.81" height="9.38" fill="#fca95f"/>
<rect x="182.23" y="484" width="11.81" height="9.38" fill="#fff2a9"/>
<rect x="193.89" y="484" width="11.81" height="9.38" fill="#fdbf6f"/>
<rect x="205.55" y="484" width="11.81" height="9.38" fill="#f5fbaf"/>
<rect x="217.21" y="484" width="11.81" height="9.38" fill="#bfe5a0"/>
<rect x="228.87" y="484" width="11.81" height="9.38" fill="#fff2a9"/>
<rect x="240.52" y="484" width="11.81" height="9.38" fill="#fee594"/>
<rect x="252.18" y="484" width="11.81" height="9.38" fill="#fee594"/>
<rect x="263.84" y="484" width="11.81" height="9.38" fill="#fdbf6f"/>
<rect x="275.5" y="484" width="11.81" height="9.38" fill="#f5fbaf"/>
<rect x="287.16" y="484" width="11.81" height="9.38" fill="#fff2a9"/>
<rect x="298.81" y="484" width="11.81" height="9.38" fill="#f5fbaf"/>
<rect x="310.47" y="484" width="11.81" height="9.38" fill="#fff2a9"/>
<rect x="322.13" y="484" width="11.81" height="9.38" fill="#ffffbf"/>
<rect x="333.79" y="484" width="11.81" height="9.38" fill="#eaf79e"/>
<rect x="345.45" y="484" width="11.81" height="9.38" fill="#bfe5a0"/>
<rect x="357.1" y="484" width="11.81" height="9.38" fill="#eaf79e"/>
<rect x="368.76" y="484" width="11.81" height="9.38" fill="#fee594"/>
<rect x="380.42" y="484" width="11.81" height="9.38" fill="#d7ef9b"/>
<rect x="392.08" y="484" width="11.81" height="9.38" fill="#fff2a9"/>
<rect x="403.74" y="484" width="11.81" height="9.38" fill="#ffffbf"/>
<rect x="415.4" y="484" width="11.81" height="9.38" fill="#ffffbf"/>
<rect x="427.05" y="484" width="11.81" height="9.38" fill="#ffffbf"/>
<rect x="438.71" y="484" width="11.81" height="9.38" fill="#fff2a9"/>
<rect x="450.37" y="484" width="11.81" height="9.38" fill="#fed480"/>
<rect x="462.03" y="484" width="11.81" height="9.38" fill="#eaf79e"/>
<rect x="473.69" y="484" width="11.81" height="9.38" fill="#fff2a9"/>
<rect x="485.34" y="484" width="11.81" height="9.38" fill="#ffffbf"/>
<rect x="497" y="484" width="11.81" height="9.38" fill="#fff2a9"/>
<rect x="508.66" y="484" width="11.81" height="9.38" fill="#eaf79e"/>
<rect x="520.32" y="484" width="11.81" height="9.38" fill="#fed480"/>
<rect x="531.98" y="484" width="11.81" height="9.38" fill="#bfe5a0"/>
<rect x="543.63" y="484" width="11.81" height="9.38" fill="#fff2a9"/>
<rect x="555.29" y="484" width="11.81" height="9.38" fill="#f5fbaf"/>
<rect x="566.95" y="484" width="11.81" height="9.38" fill="#f5fbaf"/>
<rect x="578.61" y="484" width="11.81" height="9.38" fill="#eaf79e"/>
<rect x="590.27" y="484" width="11.81" height="9.38" fill="#eaf79e"/>
<rect x="601.93" y="484" width="11.81" height="9.38" fill="#d7ef9b"/>
<rect x="613.58" y="484" width="11.81" height="9.38" fill="#bfe5a0"/>
<rect x="625.24" y="484" width="11.66" height="9.38" fill="#fff2a9"/>
<rect x="135.6" y="492.93" width="11.81" height="9.38" fill="#fff2a9"/>
<rect x="147.26" y="492.93" width="11.81" height="9.38" fill="#fff2a9"/>
<rect x="158.92" y="492.93" width="11.81" height="9.38" fill="#f5fbaf"/>
<rect x="170.57" y="492.93" width="11.81" height="9.38" fill="#eaf79e"/>
<rect x="182.23" y="492.93" width="11.81" height="9.38" fill="#ea5d47"/>
<rect x="193.89" y="492.93" width="11.81" height="9.38" fill="#f57246"/>
<rect x="205.55" y="492.93" width="11.81" height="9.38" fill="#fff2a9"/>
<rect x="217.21" y="492.93" width="11.81" height="9.38" fill="#eaf79e"/>
<rect x="228.87" y="492.93" width="11.81" height="9.38" fill="#ffffbf"/>
<rect x="240.52" y="492.93" width="11.81" height="9.38" fill="#ffffbf"/>
<rect x="252.18" y="492.93" width="11.81" height="9.38" fill="#fca95f"/>
<rect x="263.84" y="492.93" width="11.81" height="9.38" fill="#ffffbf"/>
<rect x="275.5" y="492.93" width="11.81" height="9.38" fill="#f88e52"/>
<rect x="287.16" y="492.93" width="11.81" height="9.38" fill="#f5fbaf"/>
<rect x="298.81" y="492.93" width="11.81" height="9.38" fill="#eaf79e"/>
<rect x="310.47" y="492.93" width="11.81" height="9.38" fill="#fdbf6f"/>
<rect x="322.13" y="492.93" width="11.81" height="9.38" fill="#eaf79e"/>
<rect x="333.79" y="492.93" width="11.81" height="9.38" fill="#ffffbf"/>
<rect x="345.45" y="492.93" width="11.81" height="9.38" fill="#f5fbaf"/>
<rect x="357.1" y="492.93" width="11.81" height="9.38" fill="#d7ef9b"/>
<rect x="368.76" y="492.93" width="11.81" height="9.38" fill="#f5fbaf"/>
<rect x="380.42" y="492.93" width="11.81" height="9.38" fill="#eaf79e"/>
<rect x="392.08" y="492.93" width="11.81" height="9.38" fill="#ffffbf"/>
<rect x="403.74" y="492.93" width="11.81" height="9.38" fill="#f5fbaf"/>
<rect x="415.4" y="492.93" width="11.81" height="9.38" fill="#eaf79e"/>
<rect x="427.05" y="492.93" width="11.81" height="9.38" fill="#f5fbaf"/>
<rect x="438.71" y="492.93" width="11.81" height="9.38" fill="#eaf79e"/>
<rect x="450.37" y="492.93" width="11.81" height="9.38" fill="#eaf79e"/>
<rect x="462.03" y="492.93" width="11.81" height="9.38" fill="#f5fbaf"/>
<rect x="473.69" y="492.93" width="11.81" height="9.38" fill="#fff2a9"/>
<rect x="485.34" y="492.93" width="11.81" height="9.38" fill="#fff2a9"/>
<rect x="497" y="492.93" width="11.81" height="9.38" fill="#f5fbaf"/>
<rect x="508.66" y="492.93" width="11.81" height="9.38" fill="#f5fbaf"/>
<rect x="520.32" y="492.93" width="11.81" height="9.38" fill="#f5fbaf"/>
<rect x="531.98" y="492.93" width="11.81" height="9.38" fill="#eaf79e"/>
<rect x="543.63" y="492.93" width="11.81" height="9.38" fill="#eaf79e"/>
<rect x="555.29" y="492.93" width="11.81" height="9.38" fill="#fee594"/>
<rect x="566.95" y="492.93" width="11.81" height="9.38" fill="#ffffbf"/>
<rect x="578.61" y="492.93" width="11.81" height="9.38" fill="#ffffbf"/>
<rect x="590.27" y="492.93" width="11.81" height="9.38" fill="#f5fbaf"/>
<rect x="601.93" y="492.93" width="11.81" height="9.38" fill="#ffffbf"/>
<rect x="613.58" y="492.93" width="11.81" height="9.38" fill="#f5fbaf"/>
<rect x="625.24" y="492.93" width="11.66" height="9.38" fill="#f5fbaf"/>
<rect x="135.6" y="501.87" width="11.81" height="8.93" fill="#fca95f"/>
<rect x="147.26" y="501.87" width="11.81" height="8.93" fill="#eaf79e"/>
<rect x="158.92" y="501.87" width="11.81" height="8.93" fill="#fed480"/>
<rect x="170.57" y="501.87" width="11.81" height="8.93" fill="#fed480"/>
<rect x="182.23" y="501.87" width="11.81" height="8.93" fill="#f5fbaf"/>
<rect x="193.89" y="501.87" width="11.81" height="8.93" fill="#ea5d47"/>
<rect x="205.55" y="501.87" width="11.81" height="8.93" fill="#eaf79e"/>
<rect x="217.21" y="501.87" width="11.81" height="8.93" fill="#eaf79e"/>
<rect x="228.87" y="501.87" width="11.81" height="8.93" fill="#fff2a9"/>
<rect x="240.52" y="501.87" width="11.81" height="8.93" fill="#fff2a9"/>
<rect x="252.18" y="501.87" width="11.81" height="8.93" fill="#eaf79e"/>
<rect x="263.84" y="501.87" width="11.81" height="8.93" fill="#eaf79e"/>
<rect x="275.5" y="501.87" width="11.81" height="8.93" fill="#eaf79e"/>
<rect x="287.16" y="501.87" width="11.81" height="8.93" fill="#fee594"/>
<rect x="298.81" y="501.87" width="11.81" height="8.93" fill="#f57246"/>
<rect x="310.47" y="501.87" width="11.81" height="8.93" fill="#fee594"/>
<rect x="322.13" y="501.87" width="11.81" height="8.93" fill="#f5fbaf"/>
<rect x="333.79" y="501.87" width="11.81" height="8.93" fill="#fee594"/>
<rect x="345.45" y="501.87" width="11.81" height="8.93" fill="#eaf79e"/>
<rect x="357.1" y="501.87" width="11.81" height="8.93" fill="#eaf79e"/>
<rect x="368.76" y="501.87" width="11.81" height="8.93" fill="#eaf79e"/>
<rect x="380.42" y="501.87" width="11.81" height="8.93" fill="#f5fbaf"/>
<rect x="392.08" y="501.87" width="11.81" height="8.93" fill="#ffffbf"/>
<rect x="403.74" y="501.87" width="11.81" height="8.93" fill="#eaf79e"/>
<rect x="415.4" y="501.87" width="11.81" height="8.93" fill="#f5fbaf"/>
<rect x="427.05" y="501.87" width="11.81" height="8.93" fill="#ffffbf"/>
<rect x="438.71" y="501.87" width="11.81" height="8.93" fill="#f5fbaf"/>
<rect x="450.37" y="501.87" width="11.81" height="8.93" fill="#f5fbaf"/>
<rect x="462.03" y="501.87" width="11.81" height="8.93" fill="#eaf79e"/>
<rect x="473.69" y="501.87" width="11.81" height="8.93" fill="#ffffbf"/>
<rect x="485.34" y="501.87" width="11.81" height="8.93" fill="#fff2a9"/>
<rect x="497" y="501.87" width="11.81" height="8.93" fill="#fed480"/>
<rect x="508.66" y="501.87" width="11.81" height="8.93" fill="#eaf79e"/>
<rect x="520.32" y="501.87" width="11.81" height="8.93" fill="#f5fbaf"/>
<rect x="531.98" y="501.87" width="11.81" height="8.93" fill="#f5fbaf"/>
<rect x="543.63" y="501.87" width="11.81" height="8.93" fill="#eaf79e"/>
<rect x="555.29" y="501.87" width="11.81" height="8.93" fill="#eaf79e"/>
<rect x="566.95" y="501.87" width="11.81" height="8.93" fill="#f5fbaf"/>
<rect x="578.61" y="501.87" width="11.81" height="8.93" fill="#f5fbaf"/>
<rect x="590.27" y="501.87" width="11.81" height="8.93" fill="#ffffbf"/>
<rect x="601.93" y="501.87" width="11.81" height="8.93" fill="#f5fbaf"/>
<rect x="613.58" y="501.87" width="11.81" height="8.93" fill="#eaf79e"/>
<rect x="625.24" y="501.87" width="11.66" height="8.93" fill="#eaf79e"/>
</g>
<g>
<rect x="135.6" y="133" width="11.81" height="17.3" fill="#cf2728"/>
<rect x="147.26" y="133" width="11.81" height="17.3" fill="#cf2728"/>
<rect x="158.92" y="133" width="11.81" height="17.3" fill="#cf2728"/>
<rect x="170.57" y="133" width="11.81" height="17.3" fill="#cf2728"/>
<rect x="182.23" y="133" width="11.81" height="17.3" fill="#cf2728"/>
<rect x="193.89" y="133" width="11.81" height="17.3" fill="#cf2728"/>
<rect x="205.55" y="133" width="11.81" height="17.3" fill="#cf2728"/>
<rect x="217.21" y="133" width="11.81" height="17.3" fill="#cf2728"/>
<rect x="228.87" y="133" width="11.81" height="17.3" fill="#cf2728"/>
<rect x="240.52" y="133" width="11.81" height="17.3" fill="#cf2728"/>
<rect x="252.18" y="133" width="11.81" height="17.3" fill="#cf2728"/>
<rect x="263.84" y="133" width="11.81" height="17.3" fill="#04668c"/>
<rect x="275.5" y="133" width="11.81" height="17.3" fill="#cf2728"/>
<rect x="287.16" y="133" width="11.81" height="17.3" fill="#04668c"/>
<rect x="298.81" y="133" width="11.81" height="17.3" fill="#cf2728"/>
<rect x="310.47" y="133" width="11.81" height="17.3" fill="#04668c"/>
<rect x="322.13" y="133" width="11.81" height="17.3" fill="#cf2728"/>
<rect x="333.79" y="133" width="11.81" height="17.3" fill="#cf2728"/>
<rect x="345.45" y="133" width="11.81" height="17.3" fill="#04668c"/>
<rect x="357.1" y="133" width="11.81" height="17.3" fill="#04668c"/>
<rect x="368.76" y="133" width="11.81" height="17.3" fill="#04668c"/>
<rect x="380.42" y="133" width="11.81" height="17.3" fill="#cf2728"/>
<rect x="392.08" y="133" width="11.81" height="17.3" fill="#04668c"/>
<rect x="403.74" y="133" width="11.81" height="17.3" fill="#cf2728"/>
<rect x="415.4" y="133" width="11.81" height="17.3" fill="#04668c"/>
<rect x="427.05" y="133" width="11.81" height="17.3" fill="#04668c"/>
<rect x="438.71" y="133" width="11.81" height="17.3" fill="#04668c"/>
<rect x="450.37" y="133" width="11.81" height="17.3" fill="#cf2728"/>
<rect x="462.03" y="133" width="11.81" height="17.3" fill="#04668c"/>
<rect x="473.69" y="133" width="11.81" height="17.3" fill="#04668c"/>
<rect x="485.34" y="133" width="11.81" height="17.3" fill="#04668c"/>
<rect x="497" y="133" width="11.81" height="17.3" fill="#04668c"/>
<rect x="508.66" y="133" width="11.81" height="17.3" fill="#cf2728"/>
<rect x="520.32" y="133" width="11.81" height="17.3" fill="#04668c"/>
<rect x="531.98" y="133" width="11.81" height="17.3" fill="#04668c"/>
<rect x="543.63" y="133" width="11.81" height="17.3" fill="#04668c"/>
<rect x="555.29" y="133" width="11.81" height="17.3" fill="#04668c"/>
<rect x="566.95" y="133" width="11.81" height="17.3" fill="#04668c"/>
<rect x="578.61" y="133" width="11.81" height="17.3" fill="#04668c"/>
<rect x="590.27" y="133" width="11.81" height="17.3" fill="#04668c"/>
<rect x="601.93" y="133" width="11.81" height="17.3" fill="#04668c"/>
<rect x="613.58" y="133" width="11.81" height="17.3" fill="#04668c"/>
<rect x="625.24" y="133" width="11.66" height="17.3" fill="#04668c"/>
</g>
<path d="M141.43 128.6L141.43 126.6M153.09 128.6L153.09 126.6M141.43 126.6L153.09 126.6M164.75 128.6L164.75 127M176.4 128.6L176.4 127M147.26 126.6L147.26 120.5M170.57 127.4L170.57 120.5M211.38 128.6L211.38 127M223.04 128.6L223.04 127M234.69 128.6L234.69 126.6M246.35 128.6L246.35 126.6M234.69 126.6L246.35 126.6M217.21 127.4L217.21 123.5M240.52 126.6L240.52 123.5M269.67 128.6L269.67 127.8M281.33 128.6L281.33 127.8M269.67 127.8L281.33 127.8M275.5 127.8L275.5 126.4M292.98 128.6L292.98 126.4M275.5 126.4L292.98 126.4M284.24 126.4L284.24 123.5M304.64 128.6L304.64 123.5M316.3 128.6L316.3 127M327.96 128.6L327.96 127M339.62 128.6L339.62 128M351.28 128.6L351.28 128M322.13 127.4L322.13 126.5M345.45 127.8L345.45 126.5M362.93 128.6L362.93 128M374.59 128.6L374.59 128M368.76 127.8L368.76 126.5M386.25 128.6L386.25 126.5M294.44 123.1L294.44 117.5M355.65 123.6L355.65 117.5M397.91 128.6L397.91 126M409.57 128.6L409.57 126M421.22 128.6L421.22 127.7M432.88 128.6L432.88 127.7M421.22 127.7L432.88 127.7M444.54 128.6L444.54 127.7M456.2 128.6L456.2 127.7M444.54 127.7L456.2 127.7M427.05 127.7L427.05 127.1M450.37 127.7L450.37 127.1M427.05 127.1L450.37 127.1M479.52 128.6L479.52 127.9M491.17 128.6L491.17 127.9M479.52 127.9L491.17 127.9M467.86 128.6L467.86 124M485.34 127.9L485.34 124M502.83 128.6L502.83 127.7M514.49 128.6L514.49 127.7M502.83 127.7L514.49 127.7M526.15 128.6L526.15 127.1M537.81 128.6L537.81 127.1M526.15 127.1L537.81 127.1M508.66 127.7L508.66 126M531.98 127.1L531.98 126M476.6 124.4L476.6 121.3M520.32 125.6L520.32 121.3M476.6 121.3L520.32 121.3M421.22 123L421.22 114M498.46 121.3L498.46 114M561.12 128.6L561.12 126.1M572.78 128.6L572.78 126.1M561.12 126.1L572.78 126.1M566.95 126.1L566.95 120M584.44 128.6L584.44 123.5M596.1 128.6L596.1 123.5M619.41 128.6L619.41 125.5M631.07 128.6L631.07 125.5M607.75 128.6L607.75 120.3M607.75 120.3L625 120.3M590.5 109.8L616 109.8M130.8 157.87L129.6 157.87M130.8 166.8L129.6 166.8M129.6 157.87L129.6 166.8M129.6 162.34L128.4 162.34M130.8 175.74L128.4 175.74M128.4 162.34L128.4 175.74M130.8 184.67L129.3 184.67M130.8 193.61L129.3 193.61M129.3 184.67L129.3 193.61M129.3 189.14L126 189.14M130.8 202.54L123.5 202.54M130.8 211.48L130 211.48M130.8 220.41L130 220.41M130 211.48L130 220.41M130 215.94L127 215.94M130.8 229.35L127 229.35M127 215.94L127 229.35M127 222.65L122.1 222.65M130.8 238.28L122.1 238.28M122.1 222.65L122.1 238.28M122.1 230.46L112.5 230.46M130.8 247.22L128.1 247.22M130.8 256.15L128.1 256.15M128.1 247.22L128.1 256.15M130.8 265.09L123.5 265.09M130.8 274.02L123.5 274.02M123.5 265.09L123.5 274.02M130.8 282.96L122.8 282.96M130.8 291.89L122.8 291.89M122.8 282.96L122.8 291.89M130.8 300.83L128.7 300.83M130.8 309.76L128.7 309.76M128.7 300.83L128.7 309.76M128.7 305.29L122.5 305.29M130.8 318.7L122.5 318.7M122.5 305.29L122.5 318.7M130.8 327.63L127.6 327.63M130.8 336.57L127.6 336.57M127.6 327.63L127.6 336.57M130.8 345.5L129 345.5M130.8 354.44L129 354.44M129 345.5L129 354.44M130.8 363.37L129.3 363.37M130.8 372.31L129.3 372.31M129.3 363.37L129.3 372.31M129 349.97L125.4 349.97M129.3 367.84L125.4 367.84M125.4 349.97L125.4 367.84M127.6 332.1L118.5 332.1M125.4 358.9L118.5 358.9M118.5 332.1L118.5 358.9M130.8 390.18L129.2 390.18M130.8 399.11L129.2 399.11M129.2 390.18L129.2 399.11M130.8 381.24L126.4 381.24M129.2 394.64L126.4 394.64M126.4 381.24L126.4 394.64M130.8 408.05L129.4 408.05M130.8 416.98L129.4 416.98M129.4 408.05L129.4 416.98M130.8 443.79L129.5 443.79M130.8 452.72L129.5 452.72M129.5 443.79L129.5 452.72M130.8 434.85L129.2 434.85M129.5 448.25L129.2 448.25M129.2 434.85L129.2 448.25M130.8 425.92L127.8 425.92M129.2 441.55L127.8 441.55M127.8 425.92L127.8 441.55M129.4 412.51L126.3 412.51M127.8 433.74L126.3 433.74M126.3 412.51L126.3 433.74M130.8 461.66L129.2 461.66M130.8 470.59L129.2 470.59M129.2 461.66L129.2 470.59M130.8 497.4L129.6 497.4M130.8 506.33L129.6 506.33M129.6 497.4L129.6 506.33M130.8 488.46L129.4 488.46M129.6 501.86L129.4 501.86M129.4 488.46L129.4 501.86M130.8 479.53L129.2 479.53M129.4 495.16L129.2 495.16M129.2 479.53L129.2 495.16M129.2 466.12L128.4 466.12M129.2 487.35L128.4 487.35M128.4 466.12L128.4 487.35M126.3 423.13L123.5 423.13M128.4 476.74L123.5 476.74" stroke="#000" stroke-width="0.55" fill="none" stroke-linecap="square"/>
<path d="M147.26 120.5L170.57 120.5M188 113.5L200 113.5M158.5 120.5L158.5 97.5M193.5 113.3L193.5 97.5M158.5 97.5L193.5 97.5M217.21 123.5L240.52 123.5M228.5 123.3L228.5 112.5M258.5 128.6L258.5 112.5M228.5 112.5L258.5 112.5M284.24 123.5L304.64 123.5M322.13 126.5L345.45 126.5M368.76 126.5L386.25 126.5M377.5 126.3L377.5 124M294.44 117.5L355.65 117.5M403.5 126.3L403.5 123M438.5 127.1L438.5 123M325.5 117L325.5 101.5M459.5 113.7L459.5 101.5M325.5 101.5L459.5 101.5M584.44 123.5L596.1 123.5M619.41 125.5L631.07 125.5M590.5 123L590.5 109.8M558.5 120L558.5 95.5M603.5 109.8L603.5 95.5M558.5 95.5L603.5 95.5M317.5 81.5L317.5 44M580.5 95.3L580.5 44M176 3.5L449 3.5M128.4 169.5L126 169.5M126.3 179.5L123.5 179.5M123.5 179.5L123.5 202.54M123.2 190.5L112.5 190.5M112.5 190.5L112.5 230.46M122.8 287.5L106.5 287.5M122.5 311.5L106.5 311.5M106.5 287.5L106.5 311.5M123.5 269.5L89 269.5M106.5 299.5L89 299.5M101.1 231.5L45 231.5M123.5 423.13L123.5 476.74M126.4 387.5L112 387.5M112.4 418.5L100.5 418.5M100.5 346L100.5 418.5M45.4 257.5L2.5 257.5M100 382.5L2.5 382.5M2.5 257.5L2.5 382.5" stroke="#000" stroke-width="0.6" fill="none" stroke-linecap="square"/>
<path d="M164.75 127L176.4 127M188 128.6L188 113.5M200 128.6L200 113.5M211.38 127L223.04 127M316.3 127L327.96 127M339.62 128L351.28 128M362.93 128L374.59 128M334 126.3L334 124M334 124L377.5 124M397.91 126L409.57 126M403.5 123L438.5 123M467.86 124L485.34 124M508.66 126L531.98 126M421.22 114L498.46 114M243 112.1L243 82M392 101.4L392 82M243 82L392 82M549 128.6L549 120M549 120L566.95 120M625 125.2L625 120.3M616 120.3L616 109.8M317.5 44L580.5 44M176 97.4L176 3.5M449 44.4L449 3.5M126 169.5L126 189.14M112.1 211L101 211M128.1 252L101 252M101 211L101 252M89 269.5L89 299.5M89.1 285L45 285M45 231.5L45 285M123.4 450L112 450M112 387.5L112 450M118.5 346L100.5 346" stroke="#000" stroke-width="0.32" fill="none" stroke-linecap="square"/>
<text transform="translate(640 160.77) scale(0.87 1)" font-size="8.4" fill="#111" stroke="#111" stroke-width="0.12">FCGR3B</text>
<text transform="translate(640 169.7) scale(0.87 1)" font-size="8.4" fill="#111" stroke="#111" stroke-width="0.12">IRF4</text>
<text transform="translate(640 178.64) scale(0.87 1)" font-size="8.4" fill="#111" stroke="#111" stroke-width="0.12">FCRLA</text>
<text transform="translate(640 187.57) scale(0.87 1)" font-size="8.4" fill="#111" stroke="#111" stroke-width="0.12">LRG1</text>
<text transform="translate(640 196.51) scale(0.87 1)" font-size="8.4" fill="#111" stroke="#111" stroke-width="0.12">CD74</text>
<text transform="translate(640 205.44) scale(0.87 1)" font-size="8.4" fill="#111" stroke="#111" stroke-width="0.12">KLRF1</text>
<text transform="translate(640 214.38) scale(0.87 1)" font-size="8.4" fill="#111" stroke="#111" stroke-width="0.12">TAGAP</text>
<text transform="translate(640 223.31) scale(0.87 1)" font-size="8.4" fill="#111" stroke="#111" stroke-width="0.12">FCGR1A</text>
<text transform="translate(640 232.25) scale(0.87 1)" font-size="8.4" fill="#111" stroke="#111" stroke-width="0.12">CD79A</text>
<text transform="translate(640 241.18) scale(0.87 1)" font-size="8.4" fill="#111" stroke="#111" stroke-width="0.12">SLAMF7</text>
<text transform="translate(640 250.12) scale(0.87 1)" font-size="8.4" fill="#111" stroke="#111" stroke-width="0.12">FCGR2B</text>
<text transform="translate(640 259.05) scale(0.87 1)" font-size="8.4" fill="#111" stroke="#111" stroke-width="0.12">TNFRSF17</text>
<text transform="translate(640 267.99) scale(0.87 1)" font-size="8.4" fill="#111" stroke="#111" stroke-width="0.12">GAGE10</text>
<text transform="translate(640 276.92) scale(0.87 1)" font-size="8.4" fill="#111" stroke="#111" stroke-width="0.12">MADCAM1</text>
<text transform="translate(640 285.86) scale(0.87 1)" font-size="8.4" fill="#111" stroke="#111" stroke-width="0.12">CTAG1B</text>
<text transform="translate(640 294.79) scale(0.87 1)" font-size="8.4" fill="#111" stroke="#111" stroke-width="0.12">CEACAM8</text>
<text transform="translate(640 303.73) scale(0.87 1)" font-size="8.4" fill="#111" stroke="#111" stroke-width="0.12">HLA-A</text>
<text transform="translate(640 312.66) scale(0.87 1)" font-size="8.4" fill="#111" stroke="#111" stroke-width="0.12">TNFSF13B</text>
<text transform="translate(640 321.6) scale(0.87 1)" font-size="8.4" fill="#111" stroke="#111" stroke-width="0.12">CX3CR14</text>
<text transform="translate(640 330.53) scale(0.87 1)" font-size="8.4" fill="#111" stroke="#111" stroke-width="0.12">GADD45GIP1</text>
<text transform="translate(640 339.47) scale(0.87 1)" font-size="8.4" fill="#111" stroke="#111" stroke-width="0.12">TNFRSF14</text>
<text transform="translate(640 348.4) scale(0.87 1)" font-size="8.4" fill="#111" stroke="#111" stroke-width="0.12">KRT5</text>
<text transform="translate(640 357.34) scale(0.87 1)" font-size="8.4" fill="#111" stroke="#111" stroke-width="0.12">IL7R</text>
<text transform="translate(640 366.27) scale(0.87 1)" font-size="8.4" fill="#111" stroke="#111" stroke-width="0.12">FOXM1</text>
<text transform="translate(640 375.21) scale(0.87 1)" font-size="8.4" fill="#111" stroke="#111" stroke-width="0.12">CBLB</text>
<text transform="translate(640 384.14) scale(0.87 1)" font-size="8.4" fill="#111" stroke="#111" stroke-width="0.12">MAPK1</text>
<text transform="translate(640 393.08) scale(0.87 1)" font-size="8.4" fill="#111" stroke="#111" stroke-width="0.12">CDKN3</text>
<text transform="translate(640 402.01) scale(0.87 1)" font-size="8.4" fill="#111" stroke="#111" stroke-width="0.12">STAT5</text>
<text transform="translate(640 410.95) scale(0.87 1)" font-size="8.4" fill="#111" stroke="#111" stroke-width="0.12">MKI67</text>
<text transform="translate(640 419.88) scale(0.87 1)" font-size="8.4" fill="#111" stroke="#111" stroke-width="0.12">VEGFA</text>
<text transform="translate(640 428.82) scale(0.87 1)" font-size="8.4" fill="#111" stroke="#111" stroke-width="0.12">FOXO1</text>
<text transform="translate(640 437.75) scale(0.87 1)" font-size="8.4" fill="#111" stroke="#111" stroke-width="0.12">SNAI1</text>
<text transform="translate(640 446.69) scale(0.87 1)" font-size="8.4" fill="#111" stroke="#111" stroke-width="0.12">GATA3</text>
<text transform="translate(640 455.62) scale(0.87 1)" font-size="8.4" fill="#111" stroke="#111" stroke-width="0.12">FAS</text>
<text transform="translate(640 464.56) scale(0.87 1)" font-size="8.4" fill="#111" stroke="#111" stroke-width="0.12">PVR</text>
<text transform="translate(640 473.49) scale(0.87 1)" font-size="8.4" fill="#111" stroke="#111" stroke-width="0.12">HLA-DQB2</text>
<text transform="translate(640 482.43) scale(0.87 1)" font-size="8.4" fill="#111" stroke="#111" stroke-width="0.12">ITGA1</text>
<text transform="translate(640 491.36) scale(0.87 1)" font-size="8.4" fill="#111" stroke="#111" stroke-width="0.12">TGFB1</text>
<text transform="translate(640 500.3) scale(0.87 1)" font-size="8.4" fill="#111" stroke="#111" stroke-width="0.12">BCL2</text>
<text transform="translate(640 509.23) scale(0.87 1)" font-size="8.4" fill="#111" stroke="#111" stroke-width="0.12">PMEL</text>
<text transform="translate(144.33 514.1) rotate(-90) scale(0.92 1)" text-anchor="end" font-size="8.3" fill="#111" stroke="#111" stroke-width="0.06">EO-022</text>
<text transform="translate(155.99 514.1) rotate(-90) scale(0.92 1)" text-anchor="end" font-size="8.3" fill="#111" stroke="#111" stroke-width="0.06">EO-011</text>
<text transform="translate(167.65 514.1) rotate(-90) scale(0.92 1)" text-anchor="end" font-size="8.3" fill="#111" stroke="#111" stroke-width="0.06">EO-013</text>
<text transform="translate(179.3 514.1) rotate(-90) scale(0.92 1)" text-anchor="end" font-size="8.3" fill="#111" stroke="#111" stroke-width="0.06">EO-041</text>
<text transform="translate(190.96 514.1) rotate(-90) scale(0.92 1)" text-anchor="end" font-size="8.3" fill="#111" stroke="#111" stroke-width="0.06">EO-012</text>
<text transform="translate(202.62 514.1) rotate(-90) scale(0.92 1)" text-anchor="end" font-size="8.3" fill="#111" stroke="#111" stroke-width="0.06">EO-017</text>
<text transform="translate(214.28 514.1) rotate(-90) scale(0.92 1)" text-anchor="end" font-size="8.3" fill="#111" stroke="#111" stroke-width="0.06">EO-033</text>
<text transform="translate(225.94 514.1) rotate(-90) scale(0.92 1)" text-anchor="end" font-size="8.3" fill="#111" stroke="#111" stroke-width="0.06">EO-007</text>
<text transform="translate(237.59 514.1) rotate(-90) scale(0.92 1)" text-anchor="end" font-size="8.3" fill="#111" stroke="#111" stroke-width="0.06">EO-036</text>
<text transform="translate(249.25 514.1) rotate(-90) scale(0.92 1)" text-anchor="end" font-size="8.3" fill="#111" stroke="#111" stroke-width="0.06">EO-043</text>
<text transform="translate(260.91 514.1) rotate(-90) scale(0.92 1)" text-anchor="end" font-size="8.3" fill="#111" stroke="#111" stroke-width="0.06">EO-014</text>
<text transform="translate(272.57 514.1) rotate(-90) scale(0.92 1)" text-anchor="end" font-size="8.3" fill="#111" stroke="#111" stroke-width="0.06">EO-028</text>
<text transform="translate(284.23 514.1) rotate(-90) scale(0.92 1)" text-anchor="end" font-size="8.3" fill="#111" stroke="#111" stroke-width="0.06">EO-018</text>
<text transform="translate(295.88 514.1) rotate(-90) scale(0.92 1)" text-anchor="end" font-size="8.3" fill="#111" stroke="#111" stroke-width="0.06">EO-052</text>
<text transform="translate(307.54 514.1) rotate(-90) scale(0.92 1)" text-anchor="end" font-size="8.3" fill="#111" stroke="#111" stroke-width="0.06">EO-020</text>
<text transform="translate(319.2 514.1) rotate(-90) scale(0.92 1)" text-anchor="end" font-size="8.3" fill="#111" stroke="#111" stroke-width="0.06">EO-037</text>
<text transform="translate(330.86 514.1) rotate(-90) scale(0.92 1)" text-anchor="end" font-size="8.3" fill="#111" stroke="#111" stroke-width="0.06">EO-055</text>
<text transform="translate(342.52 514.1) rotate(-90) scale(0.92 1)" text-anchor="end" font-size="8.3" fill="#111" stroke="#111" stroke-width="0.06">EO-050</text>
<text transform="translate(354.18 514.1) rotate(-90) scale(0.92 1)" text-anchor="end" font-size="8.3" fill="#111" stroke="#111" stroke-width="0.06">EO-035</text>
<text transform="translate(365.83 514.1) rotate(-90) scale(0.92 1)" text-anchor="end" font-size="8.3" fill="#111" stroke="#111" stroke-width="0.06">EO-006</text>
<text transform="translate(377.49 514.1) rotate(-90) scale(0.92 1)" text-anchor="end" font-size="8.3" fill="#111" stroke="#111" stroke-width="0.06">EO-053</text>
<text transform="translate(389.15 514.1) rotate(-90) scale(0.92 1)" text-anchor="end" font-size="8.3" fill="#111" stroke="#111" stroke-width="0.06">EO-045</text>
<text transform="translate(400.81 514.1) rotate(-90) scale(0.92 1)" text-anchor="end" font-size="8.3" fill="#111" stroke="#111" stroke-width="0.06">EO-039</text>
<text transform="translate(412.47 514.1) rotate(-90) scale(0.92 1)" text-anchor="end" font-size="8.3" fill="#111" stroke="#111" stroke-width="0.06">EO-056</text>
<text transform="translate(424.12 514.1) rotate(-90) scale(0.92 1)" text-anchor="end" font-size="8.3" fill="#111" stroke="#111" stroke-width="0.06">EO-029</text>
<text transform="translate(435.78 514.1) rotate(-90) scale(0.92 1)" text-anchor="end" font-size="8.3" fill="#111" stroke="#111" stroke-width="0.06">EO-044</text>
<text transform="translate(447.44 514.1) rotate(-90) scale(0.92 1)" text-anchor="end" font-size="8.3" fill="#111" stroke="#111" stroke-width="0.06">EO-031</text>
<text transform="translate(459.1 514.1) rotate(-90) scale(0.92 1)" text-anchor="end" font-size="8.3" fill="#111" stroke="#111" stroke-width="0.06">EO-024</text>
<text transform="translate(470.76 514.1) rotate(-90) scale(0.92 1)" text-anchor="end" font-size="8.3" fill="#111" stroke="#111" stroke-width="0.06">EO-004</text>
<text transform="translate(482.42 514.1) rotate(-90) scale(0.92 1)" text-anchor="end" font-size="8.3" fill="#111" stroke="#111" stroke-width="0.06">EO-054</text>
<text transform="translate(494.07 514.1) rotate(-90) scale(0.92 1)" text-anchor="end" font-size="8.3" fill="#111" stroke="#111" stroke-width="0.06">EO-002</text>
<text transform="translate(505.73 514.1) rotate(-90) scale(0.92 1)" text-anchor="end" font-size="8.3" fill="#111" stroke="#111" stroke-width="0.06">EO-025</text>
<text transform="translate(517.39 514.1) rotate(-90) scale(0.92 1)" text-anchor="end" font-size="8.3" fill="#111" stroke="#111" stroke-width="0.06">EO-015</text>
<text transform="translate(529.05 514.1) rotate(-90) scale(0.92 1)" text-anchor="end" font-size="8.3" fill="#111" stroke="#111" stroke-width="0.06">EO-030</text>
<text transform="translate(540.71 514.1) rotate(-90) scale(0.92 1)" text-anchor="end" font-size="8.3" fill="#111" stroke="#111" stroke-width="0.06">EO-038</text>
<text transform="translate(552.36 514.1) rotate(-90) scale(0.92 1)" text-anchor="end" font-size="8.3" fill="#111" stroke="#111" stroke-width="0.06">EO-008</text>
<text transform="translate(564.02 514.1) rotate(-90) scale(0.92 1)" text-anchor="end" font-size="8.3" fill="#111" stroke="#111" stroke-width="0.06">EO-046</text>
<text transform="translate(575.68 514.1) rotate(-90) scale(0.92 1)" text-anchor="end" font-size="8.3" fill="#111" stroke="#111" stroke-width="0.06">EO-001</text>
<text transform="translate(587.34 514.1) rotate(-90) scale(0.92 1)" text-anchor="end" font-size="8.3" fill="#111" stroke="#111" stroke-width="0.06">EO-032</text>
<text transform="translate(599 514.1) rotate(-90) scale(0.92 1)" text-anchor="end" font-size="8.3" fill="#111" stroke="#111" stroke-width="0.06">EO-048</text>
<text transform="translate(610.65 514.1) rotate(-90) scale(0.92 1)" text-anchor="end" font-size="8.3" fill="#111" stroke="#111" stroke-width="0.06">EO-049</text>
<text transform="translate(622.31 514.1) rotate(-90) scale(0.92 1)" text-anchor="end" font-size="8.3" fill="#111" stroke="#111" stroke-width="0.06">EO-023</text>
<text transform="translate(633.97 514.1) rotate(-90) scale(0.92 1)" text-anchor="end" font-size="8.3" fill="#111" stroke="#111" stroke-width="0.06">EO-034</text>
<g shape-rendering="crispEdges">
<rect x="7.15" y="9.3" width="5.23" height="98" fill="#5e4fa2"/>
<rect x="12.08" y="9.3" width="5.23" height="98" fill="#4c67ad"/>
<rect x="17.01" y="9.3" width="5.23" height="98" fill="#397eb8"/>
<rect x="21.94" y="9.3" width="5.23" height="98" fill="#3f96b7"/>
<rect x="26.87" y="9.3" width="5.23" height="98" fill="#55afad"/>
<rect x="31.8" y="9.3" width="5.23" height="98" fill="#6cc4a5"/>
<rect x="36.73" y="9.3" width="5.23" height="98" fill="#88d0a4"/>
<rect x="41.66" y="9.3" width="5.23" height="98" fill="#a5dba4"/>
<rect x="46.59" y="9.3" width="5.23" height="98" fill="#bfe5a0"/>
<rect x="51.52" y="9.3" width="5.23" height="98" fill="#d7ef9b"/>
<rect x="56.45" y="9.3" width="5.23" height="98" fill="#eaf79e"/>
<rect x="61.38" y="9.3" width="5.23" height="98" fill="#f5fbaf"/>
<rect x="66.31" y="9.3" width="5.23" height="98" fill="#ffffbf"/>
<rect x="71.24" y="9.3" width="5.23" height="98" fill="#fff2a9"/>
<rect x="76.17" y="9.3" width="5.23" height="98" fill="#fee594"/>
<rect x="81.1" y="9.3" width="5.23" height="98" fill="#fed480"/>
<rect x="86.03" y="9.3" width="5.23" height="98" fill="#fdbf6f"/>
<rect x="90.96" y="9.3" width="5.23" height="98" fill="#fca95f"/>
<rect x="95.89" y="9.3" width="5.23" height="98" fill="#f88e52"/>
<rect x="100.82" y="9.3" width="5.23" height="98" fill="#f57246"/>
<rect x="105.75" y="9.3" width="5.23" height="98" fill="#ea5d47"/>
<rect x="110.68" y="9.3" width="5.23" height="98" fill="#dd4a4c"/>
<rect x="115.61" y="9.3" width="5.23" height="98" fill="#cc344d"/>
<rect x="120.54" y="9.3" width="5.23" height="98" fill="#b51a47"/>
<rect x="125.47" y="9.3" width="5.23" height="98" fill="#9e0142"/>
</g>
<rect x="7.15" y="9.3" width="123.25" height="98" fill="none" stroke="#333" stroke-width="0.8"/>
<line x1="7.15" y1="107.3" x2="7.15" y2="110.6" stroke="#222" stroke-width="0.5"/>
<text x="7.15" y="116.8" text-anchor="middle" class="ser" font-size="5" stroke="#222" stroke-width="0.1" fill="#222">-5.32</text>
<line x1="38.5" y1="107.3" x2="38.5" y2="110.6" stroke="#222" stroke-width="0.7"/>
<text x="37.96" y="116.8" text-anchor="middle" class="ser" font-size="5" stroke="#222" stroke-width="0.1" fill="#222">-2.66</text>
<line x1="68.5" y1="107.3" x2="68.5" y2="110.6" stroke="#222" stroke-width="0.7"/>
<text x="68.78" y="116.8" text-anchor="middle" class="ser" font-size="5" stroke="#222" stroke-width="0.1" fill="#222">0</text>
<line x1="100" y1="107.3" x2="100" y2="110.6" stroke="#222" stroke-width="0.45"/>
<text x="99.59" y="116.8" text-anchor="middle" class="ser" font-size="5" stroke="#222" stroke-width="0.1" fill="#222">2.66</text>
<line x1="130.5" y1="107.3" x2="130.5" y2="110.6" stroke="#222" stroke-width="0.7"/>
<text x="130.4" y="116.8" text-anchor="middle" class="ser" font-size="5" stroke="#222" stroke-width="0.1" fill="#222">5.32</text>
<text x="68.7" y="5.3" text-anchor="middle" class="ser" font-size="4.8" stroke="#222" stroke-width="0.1" fill="#222">Color Key</text>
<text x="620.6" y="12.6" font-size="11.6" fill="#222">Condition</text>
<rect x="610.6" y="22.4" width="8.2" height="7" fill="#04668c" stroke="#222" stroke-width="0.6"/>
<rect x="610.6" y="36.1" width="8.2" height="6.5" fill="#cf2728" stroke="#222" stroke-width="0.6"/>
<text x="629.8" y="29.4" font-size="11.6" fill="#222">no relapse</text>
<text x="629.8" y="42.9" font-size="11.6" fill="#222">relapse</text>
</svg></body></html>
